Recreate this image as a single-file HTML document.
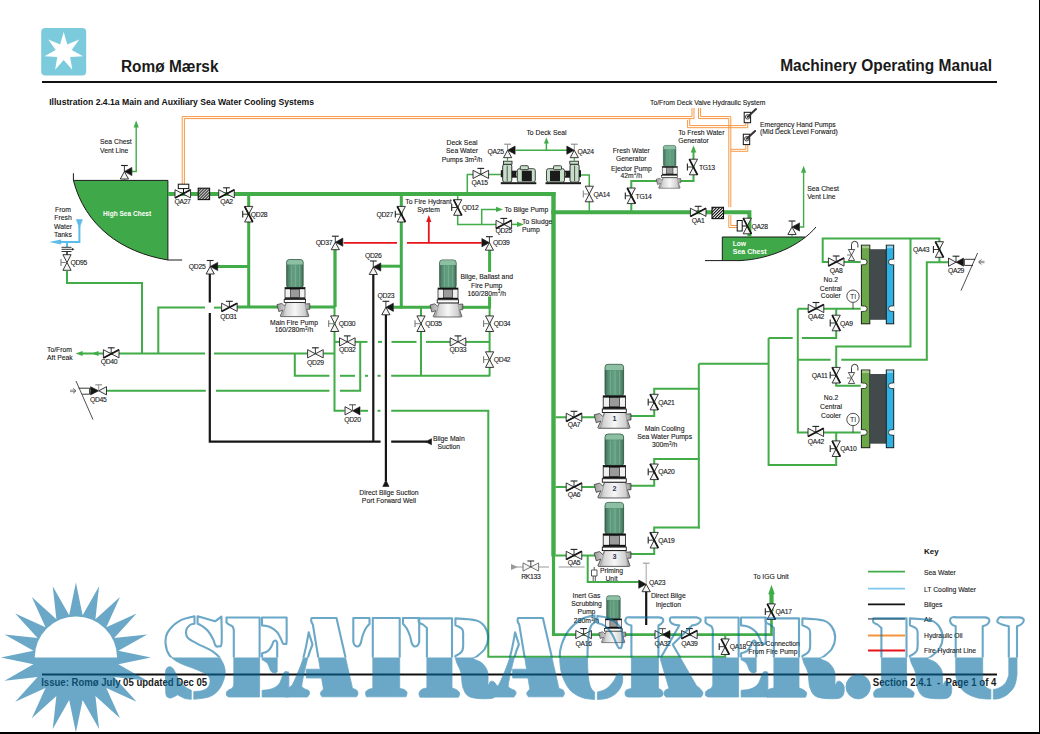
<!DOCTYPE html>
<html><head><meta charset="utf-8">
<style>
html,body{margin:0;padding:0;background:#fff;}
body{width:1040px;height:734px;overflow:hidden;position:relative;}
svg{position:absolute;left:0;top:0;}
#wm{opacity:0.59;}
</style></head><body>
<svg id="dg" width="1040" height="734" viewBox="0 0 1040 734" font-family="Liberation Sans, sans-serif">
<defs>
<pattern id="hatch" patternUnits="userSpaceOnUse" width="2.1" height="2.1" patternTransform="rotate(45)">
<rect width="2.1" height="2.1" fill="#e6e6e6"/><rect width="1.0" height="2.1" fill="#111"/></pattern>
<linearGradient id="motor" x1="0" x2="1" y1="0" y2="0">
<stop offset="0" stop-color="#3f6f57"/><stop offset="0.18" stop-color="#578f73"/><stop offset="0.5" stop-color="#62a080"/><stop offset="0.85" stop-color="#578f73"/><stop offset="1" stop-color="#3f6f57"/></linearGradient>
<linearGradient id="casing" x1="0" x2="1" y1="0" y2="0">
<stop offset="0" stop-color="#9c9c9c"/><stop offset="0.3" stop-color="#d9d9d9"/><stop offset="0.55" stop-color="#f7f7f7"/><stop offset="0.85" stop-color="#cfcfcf"/><stop offset="1" stop-color="#8f8f8f"/></linearGradient>
</defs>
<rect x="1039" y="0" width="1" height="734" fill="#000"/>
<rect x="0" y="732" width="1040" height="2" fill="#000"/>
<rect x="41.2" y="28" width="45" height="47.4" rx="4" fill="#7ccbdc"/>
<polygon fill="#fff" points="63.70,32.00 67.26,44.41 79.18,39.45 71.69,49.98 83.00,56.21 70.11,56.91 72.29,69.64 63.70,60.00 55.11,69.64 57.29,56.91 44.40,56.21 55.71,49.98 48.22,39.45 60.14,44.41"/>
<text x="121" y="72" font-size="16" text-anchor="start" font-weight="bold" fill="#1a1a1a" textLength="97.5" lengthAdjust="spacingAndGlyphs">Romø Mærsk</text>
<text x="780.2" y="71" font-size="16" text-anchor="start" font-weight="bold" fill="#1a1a1a" textLength="211.8" lengthAdjust="spacingAndGlyphs">Machinery Operating Manual</text>
<rect x="42" y="81" width="955" height="2" fill="#111"/>
<text x="49.2" y="105" font-size="9" text-anchor="start" font-weight="bold" fill="#111" textLength="264.8" lengthAdjust="spacingAndGlyphs">Illustration 2.4.1a Main and Auxiliary Sea Water Cooling Systems</text>
<rect x="42" y="673.5" width="955" height="2" fill="#111"/>
<text x="41.2" y="686" font-size="10" text-anchor="start" font-weight="bold" fill="#1a1a1a" textLength="166" lengthAdjust="spacingAndGlyphs">Issue: Romø July 05 updated Dec 05</text>
<text x="872.8" y="686" font-size="10" text-anchor="start" font-weight="bold" fill="#1a1a1a" xml:space="preserve" textLength="123.6" lengthAdjust="spacingAndGlyphs">Section 2.4.1  -  Page 1 of 4</text>
<path d="M182.20,185.00 L182.20,116.60 L692.00,116.60 L692.00,108.00" fill="none" stroke="#f5933d" stroke-width="0.95" stroke-linecap="butt" stroke-linejoin="miter"/>
<path d="M184.40,185.00 L184.40,118.60 L694.00,118.60 L694.00,108.00" fill="none" stroke="#f5933d" stroke-width="0.95" stroke-linecap="butt" stroke-linejoin="miter"/>
<path d="M698.50,108.00 L698.50,118.60 L728.80,118.60 L728.80,207.00" fill="none" stroke="#f5933d" stroke-width="0.95" stroke-linecap="butt" stroke-linejoin="miter"/>
<path d="M700.60,108.00 L700.60,116.60 L730.80,116.60 L730.80,207.00" fill="none" stroke="#f5933d" stroke-width="0.95" stroke-linecap="butt" stroke-linejoin="miter"/>
<path d="M728.80,215.00 L728.80,227.50 L737.20,227.50" fill="none" stroke="#f5933d" stroke-width="0.95" stroke-linecap="butt" stroke-linejoin="miter"/>
<path d="M730.80,215.00 L730.80,225.50 L737.20,225.50" fill="none" stroke="#f5933d" stroke-width="0.95" stroke-linecap="butt" stroke-linejoin="miter"/>
<path d="M687.60,120.00 L687.60,127.70 L747.80,127.70 L747.80,122.70" fill="none" stroke="#f5933d" stroke-width="0.95" stroke-linecap="butt" stroke-linejoin="miter"/>
<path d="M689.70,118.60 L689.70,125.60 L745.80,125.60 L745.80,122.70" fill="none" stroke="#f5933d" stroke-width="0.95" stroke-linecap="butt" stroke-linejoin="miter"/>
<path d="M730.80,151.30 L747.80,151.30 L747.80,144.50" fill="none" stroke="#f5933d" stroke-width="0.95" stroke-linecap="butt" stroke-linejoin="miter"/>
<path d="M730.80,149.30 L745.80,149.30 L745.80,144.50" fill="none" stroke="#f5933d" stroke-width="0.95" stroke-linecap="butt" stroke-linejoin="miter"/>
<rect x="744.2" y="112.3" width="6.4" height="10.4" fill="#fff" stroke="#111" stroke-width="1"/>
<circle cx="747.6" cy="116.89999999999999" r="2.2" fill="none" stroke="#111" stroke-width="0.8"/>
<path d="M747.60,116.90 L756.00,109.10" fill="none" stroke="#333" stroke-width="2.0" stroke-linecap="round" stroke-linejoin="miter"/>
<rect x="743.3" y="134.2" width="6.4" height="10.4" fill="#fff" stroke="#111" stroke-width="1"/>
<circle cx="746.6999999999999" cy="138.79999999999998" r="2.2" fill="none" stroke="#111" stroke-width="0.8"/>
<path d="M746.70,138.80 L755.10,131.00" fill="none" stroke="#333" stroke-width="2.0" stroke-linecap="round" stroke-linejoin="miter"/>
<text x="650" y="105.3" font-size="6.8" text-anchor="start" font-weight="normal" fill="#151515" stroke="#151515" stroke-width="0.1" >To/From Deck Valve Hydraulic System</text>
<text x="760" y="126.5" font-size="6.8" text-anchor="start" font-weight="normal" fill="#151515" stroke="#151515" stroke-width="0.1" >Emergency Hand Pumps</text>
<text x="760" y="134.2" font-size="6.8" text-anchor="start" font-weight="normal" fill="#151515" stroke="#151515" stroke-width="0.1" >(Mid Deck Level Forward)</text>
<path d="M73.4,180.4 L167.9,180.4 L167.9,260 C120,252 85,225 73.4,180.4 Z" fill="#3fa849"/>
<path d="M73.4,173.2 L73.4,180.4 C85,225 120,252 167.9,260 L182.2,260 M73.4,180.4 L167.9,180.4 L167.9,260" fill="none" stroke="#1a1a1a" stroke-width="1"/>
<text x="127.1" y="215.6" font-size="7.2" text-anchor="middle" font-weight="bold" fill="#fff" textLength="48" lengthAdjust="spacingAndGlyphs">High Sea Chest</text>
<path d="M124.40,180.00 L124.40,176.00" fill="none" stroke="#41ac48" stroke-width="1.2" stroke-linecap="butt" stroke-linejoin="miter"/>
<path d="M132.00,171.50 L136.20,171.50 L136.20,126.00" fill="none" stroke="#41ac48" stroke-width="1.4" stroke-linecap="butt" stroke-linejoin="miter"/>
<polygon points="136.20,120.60 133.60,127.60 138.80,127.60" fill="#41ac48"/>
<polygon points="120.30,179.00 128.50,179.00 124.40,171.50" fill="#f4f4f4" stroke="#222" stroke-width="0.9" stroke-linejoin="miter"/>
<polygon points="131.90,167.40 131.90,175.60 124.40,171.50" fill="#161616" stroke="#161616" stroke-width="0.6"/>
<path d="M124.40,171.50 L124.40,165.50" fill="none" stroke="#222" stroke-width="0.9" stroke-linecap="butt" stroke-linejoin="miter"/>
<path d="M121.00,165.50 L127.80,165.50" fill="none" stroke="#222" stroke-width="1.1" stroke-linecap="butt" stroke-linejoin="miter"/>
<text x="100" y="144.4" font-size="6.8" text-anchor="start" font-weight="normal" fill="#151515" stroke="#151515" stroke-width="0.1" >Sea Chest</text>
<text x="100" y="153.0" font-size="6.8" text-anchor="start" font-weight="normal" fill="#151515" stroke="#151515" stroke-width="0.1" >Vent Line</text>
<path d="M722.3,237 L805.4,237 C790,250 765,259 740,260.6 L722.3,260.6 Z" fill="#3fa849"/>
<path d="M722.3,260.6 L722.3,237 L805.4,237 M816,227 C800,246 770,259 740,260.6 L705,260.6" fill="none" stroke="#1a1a1a" stroke-width="1"/>
<text x="732.7" y="246" font-size="6.7" text-anchor="start" font-weight="bold" fill="#fff" >Low</text>
<text x="732.7" y="254" font-size="6.7" text-anchor="start" font-weight="bold" fill="#fff" textLength="34" lengthAdjust="spacingAndGlyphs">Sea Chest</text>
<path d="M792.00,237.00 L792.00,234.00" fill="none" stroke="#41ac48" stroke-width="1.2" stroke-linecap="butt" stroke-linejoin="miter"/>
<path d="M799.60,227.00 L803.60,227.00 L803.60,172.00" fill="none" stroke="#41ac48" stroke-width="1.4" stroke-linecap="butt" stroke-linejoin="miter"/>
<polygon points="803.60,165.70 801.00,172.70 806.20,172.70" fill="#41ac48"/>
<polygon points="787.90,234.50 796.10,234.50 792.00,227.00" fill="#f4f4f4" stroke="#222" stroke-width="0.9" stroke-linejoin="miter"/>
<polygon points="799.50,222.90 799.50,231.10 792.00,227.00" fill="#161616" stroke="#161616" stroke-width="0.6"/>
<path d="M792.00,227.00 L792.00,221.00" fill="none" stroke="#222" stroke-width="0.9" stroke-linecap="butt" stroke-linejoin="miter"/>
<path d="M788.60,221.00 L795.40,221.00" fill="none" stroke="#222" stroke-width="1.1" stroke-linecap="butt" stroke-linejoin="miter"/>
<text x="807.2" y="190.5" font-size="6.8" text-anchor="start" font-weight="normal" fill="#151515" stroke="#151515" stroke-width="0.1" >Sea Chest</text>
<text x="807.2" y="199.4" font-size="6.8" text-anchor="start" font-weight="normal" fill="#151515" stroke="#151515" stroke-width="0.1" >Vent Line</text>
<path d="M167.90,194.00 L555.50,194.00" fill="none" stroke="#41ac48" stroke-width="4" stroke-linecap="butt" stroke-linejoin="miter"/>
<path d="M553.50,192.00 L553.50,556.50" fill="none" stroke="#41ac48" stroke-width="4.4" stroke-linecap="butt" stroke-linejoin="miter"/>
<path d="M553.50,556.00 L553.50,636.00" fill="none" stroke="#41ac48" stroke-width="3.2" stroke-linecap="butt" stroke-linejoin="miter"/>
<path d="M551.30,212.30 L749.40,212.30 L749.40,237.00" fill="none" stroke="#41ac48" stroke-width="4" stroke-linecap="butt" stroke-linejoin="miter"/>
<path d="M553.50,634.60 L771.50,634.60 L771.50,611.00" fill="none" stroke="#41ac48" stroke-width="2.6" stroke-linecap="butt" stroke-linejoin="miter"/>
<path d="M771.50,611.00 L771.50,593.00" fill="none" stroke="#41ac48" stroke-width="4.2" stroke-linecap="butt" stroke-linejoin="miter"/>
<polygon points="771.50,584.70 768.20,594.20 774.80,594.20" fill="#41ac48"/>
<polygon points="175.00,189.70 175.00,197.90 182.80,193.80" fill="#f4f4f4" stroke="#222" stroke-width="0.9" stroke-linejoin="miter"/>
<polygon points="190.60,189.70 190.60,197.90 182.80,193.80" fill="#f4f4f4" stroke="#222" stroke-width="0.9" stroke-linejoin="miter"/>
<path d="M175.00,197.90 L190.60,189.70" fill="none" stroke="#161616" stroke-width="1.7" stroke-linecap="butt" stroke-linejoin="miter"/>
<rect x="178.3" y="184.2" width="10.5" height="4.4" fill="#fff" stroke="#111" stroke-width="1"/>
<path d="M183.50,188.60 L183.50,193.80" fill="none" stroke="#111" stroke-width="1" stroke-linecap="butt" stroke-linejoin="miter"/>
<rect x="198.2" y="188.2" width="11.4" height="11.4" fill="url(#hatch)" stroke="#111" stroke-width="1.1"/>
<polygon points="218.70,189.70 218.70,197.90 226.50,193.80" fill="#f4f4f4" stroke="#222" stroke-width="0.9" stroke-linejoin="miter"/>
<polygon points="234.30,189.70 234.30,197.90 226.50,193.80" fill="#f4f4f4" stroke="#222" stroke-width="0.9" stroke-linejoin="miter"/>
<path d="M218.70,197.90 L234.30,189.70" fill="none" stroke="#161616" stroke-width="1.7" stroke-linecap="butt" stroke-linejoin="miter"/>
<path d="M226.50,193.80 L226.50,187.80" fill="none" stroke="#222" stroke-width="0.9" stroke-linecap="butt" stroke-linejoin="miter"/>
<path d="M223.10,187.80 L229.90,187.80" fill="none" stroke="#222" stroke-width="1.1" stroke-linecap="butt" stroke-linejoin="miter"/>
<text x="182.5" y="204.3" font-size="6.8" text-anchor="middle" font-weight="normal" fill="#151515" stroke="#151515" stroke-width="0.1" letter-spacing="-0.3" >QA27</text>
<text x="226.5" y="204.3" font-size="6.8" text-anchor="middle" font-weight="normal" fill="#151515" stroke="#151515" stroke-width="0.1" letter-spacing="-0.3" >QA2</text>
<polygon points="690.40,208.20 690.40,216.40 698.20,212.30" fill="#f4f4f4" stroke="#222" stroke-width="0.9" stroke-linejoin="miter"/>
<polygon points="706.00,208.20 706.00,216.40 698.20,212.30" fill="#f4f4f4" stroke="#222" stroke-width="0.9" stroke-linejoin="miter"/>
<path d="M690.40,216.40 L706.00,208.20" fill="none" stroke="#161616" stroke-width="1.7" stroke-linecap="butt" stroke-linejoin="miter"/>
<path d="M698.20,212.30 L698.20,206.30" fill="none" stroke="#222" stroke-width="0.9" stroke-linecap="butt" stroke-linejoin="miter"/>
<path d="M694.80,206.30 L701.60,206.30" fill="none" stroke="#222" stroke-width="1.1" stroke-linecap="butt" stroke-linejoin="miter"/>
<text x="698.2" y="223.0" font-size="6.8" text-anchor="middle" font-weight="normal" fill="#151515" stroke="#151515" stroke-width="0.1" letter-spacing="-0.3" >QA1</text>
<rect x="712" y="207.3" width="11.5" height="11.3" fill="url(#hatch)" stroke="#111" stroke-width="1.1"/>
<polygon points="743.20,218.20 751.40,218.20 747.30,226.00" fill="#f4f4f4" stroke="#222" stroke-width="0.9" stroke-linejoin="miter"/>
<polygon points="743.20,233.80 751.40,233.80 747.30,226.00" fill="#f4f4f4" stroke="#222" stroke-width="0.9" stroke-linejoin="miter"/>
<path d="M743.20,218.20 L751.40,233.80" fill="none" stroke="#161616" stroke-width="1.7" stroke-linecap="butt" stroke-linejoin="miter"/>
<rect x="737.2" y="220.5" width="5" height="10.5" fill="#fff" stroke="#111" stroke-width="1"/>
<path d="M742.20,226.00 L747.30,226.00" fill="none" stroke="#111" stroke-width="1" stroke-linecap="butt" stroke-linejoin="miter"/>
<text x="751.5" y="229.2" font-size="6.8" text-anchor="start" font-weight="normal" fill="#151515" stroke="#151515" stroke-width="0.1" letter-spacing="-0.3" >QA28</text>
<path d="M79.40,226.00 L79.40,242.00 L60.00,242.00" fill="none" stroke="#5cbbe9" stroke-width="2" stroke-linecap="butt" stroke-linejoin="miter"/>
<polygon points="49.20,242.00 61.20,239.60 61.20,244.40" fill="#5cbbe9"/>
<polygon points="76.40,219.60 82.40,219.60 79.40,228.00" fill="#5cbbe9" stroke="#5cbbe9" stroke-width="0.6"/>
<path d="M67.00,242.00 L67.00,247.00" fill="none" stroke="#5cbbe9" stroke-width="2" stroke-linecap="butt" stroke-linejoin="miter"/>
<text x="63" y="212.2" font-size="6.8" text-anchor="middle" font-weight="normal" fill="#151515" stroke="#151515" stroke-width="0.1" >From</text>
<text x="63" y="220.3" font-size="6.8" text-anchor="middle" font-weight="normal" fill="#151515" stroke="#151515" stroke-width="0.1" >Fresh</text>
<text x="63" y="229.0" font-size="6.8" text-anchor="middle" font-weight="normal" fill="#151515" stroke="#151515" stroke-width="0.1" >Water</text>
<text x="63" y="237.2" font-size="6.8" text-anchor="middle" font-weight="normal" fill="#151515" stroke="#151515" stroke-width="0.1" >Tanks</text>
<path d="M61.50,247.30 L71.50,247.30" fill="none" stroke="#222" stroke-width="0.9" stroke-linecap="butt" stroke-linejoin="miter"/>
<path d="M61.50,249.30 L72.50,249.30" fill="none" stroke="#222" stroke-width="0.9" stroke-linecap="butt" stroke-linejoin="miter"/>
<polygon points="74.50,249.30 72.00,248.00 72.00,250.60" fill="#222"/>
<path d="M61.50,251.50 L71.50,251.50" fill="none" stroke="#222" stroke-width="0.9" stroke-linecap="butt" stroke-linejoin="miter"/>
<path d="M67.00,251.50 L67.00,255.00" fill="none" stroke="#222" stroke-width="1.5" stroke-linecap="butt" stroke-linejoin="miter"/>
<polygon points="62.90,254.70 71.10,254.70 67.00,262.50" fill="#f4f4f4" stroke="#222" stroke-width="0.9" stroke-linejoin="miter"/>
<polygon points="62.90,270.30 71.10,270.30 67.00,262.50" fill="#f4f4f4" stroke="#222" stroke-width="0.9" stroke-linejoin="miter"/>
<path d="M67.00,262.50 L61.00,262.50" fill="none" stroke="#777" stroke-width="0.9" stroke-linecap="butt" stroke-linejoin="miter"/>
<path d="M61.00,259.10 L61.00,265.90" fill="none" stroke="#777" stroke-width="1.1" stroke-linecap="butt" stroke-linejoin="miter"/>
<text x="70.4" y="265.2" font-size="6.8" text-anchor="start" font-weight="normal" fill="#151515" stroke="#151515" stroke-width="0.1" letter-spacing="-0.3" >QD95</text>
<path d="M67.00,270.40 L67.00,282.90 L142.00,282.90 L142.00,353.50" fill="none" stroke="#41ac48" stroke-width="2" stroke-linecap="butt" stroke-linejoin="miter"/>
<path d="M80.00,353.50 L205.00,353.50" fill="none" stroke="#41ac48" stroke-width="2" stroke-linecap="butt" stroke-linejoin="miter"/>
<path d="M214.00,353.50 L307.50,353.50" fill="none" stroke="#41ac48" stroke-width="2" stroke-linecap="butt" stroke-linejoin="miter"/>
<path d="M323.50,353.50 L334.50,353.50" fill="none" stroke="#41ac48" stroke-width="2" stroke-linecap="butt" stroke-linejoin="miter"/>
<polygon points="75.60,353.50 82.60,350.90 82.60,356.10" fill="#41ac48"/>
<polygon points="91.50,353.50 98.50,350.90 98.50,356.10" fill="#41ac48"/>
<polygon points="103.40,349.70 103.40,357.90 111.20,353.80" fill="#f4f4f4" stroke="#222" stroke-width="0.9" stroke-linejoin="miter"/>
<polygon points="119.00,349.70 119.00,357.90 111.20,353.80" fill="#f4f4f4" stroke="#222" stroke-width="0.9" stroke-linejoin="miter"/>
<path d="M103.40,357.90 L119.00,349.70" fill="none" stroke="#161616" stroke-width="1.7" stroke-linecap="butt" stroke-linejoin="miter"/>
<path d="M111.20,353.80 L111.20,347.80" fill="none" stroke="#222" stroke-width="0.9" stroke-linecap="butt" stroke-linejoin="miter"/>
<path d="M107.80,347.80 L114.60,347.80" fill="none" stroke="#222" stroke-width="1.1" stroke-linecap="butt" stroke-linejoin="miter"/>
<text x="109" y="364.4" font-size="6.8" text-anchor="middle" font-weight="normal" fill="#151515" stroke="#151515" stroke-width="0.1" letter-spacing="-0.3" >QD40</text>
<text x="47" y="352.2" font-size="6.8" text-anchor="start" font-weight="normal" fill="#151515" stroke="#151515" stroke-width="0.1" >To/From</text>
<text x="47" y="359.9" font-size="6.8" text-anchor="start" font-weight="normal" fill="#151515" stroke="#151515" stroke-width="0.1" >Aft Peak</text>
<path d="M158.30,353.50 L158.30,307.60 L205.00,307.60" fill="none" stroke="#41ac48" stroke-width="2" stroke-linecap="butt" stroke-linejoin="miter"/>
<path d="M214.00,307.60 L221.50,307.60" fill="none" stroke="#41ac48" stroke-width="2" stroke-linecap="butt" stroke-linejoin="miter"/>
<path d="M237.00,307.00 L278.00,307.00" fill="none" stroke="#41ac48" stroke-width="3" stroke-linecap="butt" stroke-linejoin="miter"/>
<path d="M309.50,307.00 L335.00,307.00" fill="none" stroke="#41ac48" stroke-width="3" stroke-linecap="butt" stroke-linejoin="miter"/>
<polygon points="221.60,303.20 221.60,311.40 229.40,307.30" fill="#f4f4f4" stroke="#222" stroke-width="0.9" stroke-linejoin="miter"/>
<polygon points="237.20,303.20 237.20,311.40 229.40,307.30" fill="#f4f4f4" stroke="#222" stroke-width="0.9" stroke-linejoin="miter"/>
<path d="M221.60,311.40 L237.20,303.20" fill="none" stroke="#161616" stroke-width="1.7" stroke-linecap="butt" stroke-linejoin="miter"/>
<path d="M229.40,307.30 L229.40,301.30" fill="none" stroke="#222" stroke-width="0.9" stroke-linecap="butt" stroke-linejoin="miter"/>
<path d="M226.00,301.30 L232.80,301.30" fill="none" stroke="#222" stroke-width="1.1" stroke-linecap="butt" stroke-linejoin="miter"/>
<text x="228.5" y="319.2" font-size="6.8" text-anchor="middle" font-weight="normal" fill="#151515" stroke="#151515" stroke-width="0.1" letter-spacing="-0.3" >QD31</text>
<path d="M106.30,390.80 L205.80,390.80" fill="none" stroke="#41ac48" stroke-width="2" stroke-linecap="butt" stroke-linejoin="miter"/>
<path d="M216.00,390.80 L329.40,390.80" fill="none" stroke="#41ac48" stroke-width="2" stroke-linecap="butt" stroke-linejoin="miter"/>
<path d="M340.00,390.80 L360.20,390.80 L360.20,341.90" fill="none" stroke="#41ac48" stroke-width="2" stroke-linecap="butt" stroke-linejoin="miter"/>
<polygon points="90.50,386.70 90.50,394.90 98.70,390.80" fill="#161616" stroke="#161616" stroke-width="0.6"/>
<polygon points="106.50,386.70 106.50,394.90 98.70,390.80" fill="#f4f4f4" stroke="#222" stroke-width="0.9" stroke-linejoin="miter"/>
<path d="M98.70,390.80 L98.70,384.80" fill="none" stroke="#888" stroke-width="0.9" stroke-linecap="butt" stroke-linejoin="miter"/>
<path d="M95.30,384.80 L102.10,384.80" fill="none" stroke="#888" stroke-width="1.1" stroke-linecap="butt" stroke-linejoin="miter"/>
<path d="M89.60,390.80 L91.00,390.80" fill="none" stroke="#41ac48" stroke-width="1.5" stroke-linecap="butt" stroke-linejoin="miter"/>
<path d="M78.6,388.2 L89.6,388.2 L89.6,394.2 L82.2,394.2" fill="none" stroke="#222" stroke-width="0.9"/>
<path d="M76.00,381.00 L93.00,419.60" fill="none" stroke="#222" stroke-width="0.8" stroke-linecap="butt" stroke-linejoin="miter"/>
<path d="M70.00,390.20 L75.50,390.20" fill="none" stroke="#444" stroke-width="0.6" stroke-linecap="butt" stroke-linejoin="miter"/>
<path d="M70.00,391.60 L75.50,391.60" fill="none" stroke="#444" stroke-width="0.6" stroke-linecap="butt" stroke-linejoin="miter"/>
<path d="M73,388.3 L76,390.9 L73,393.5" fill="none" stroke="#444" stroke-width="0.7"/>
<text x="98.3" y="402.0" font-size="6.8" text-anchor="middle" font-weight="normal" fill="#151515" stroke="#151515" stroke-width="0.1" letter-spacing="-0.3" >QD45</text>
<path d="M248.70,194.00 L248.70,307.00" fill="none" stroke="#41ac48" stroke-width="3" stroke-linecap="butt" stroke-linejoin="miter"/>
<path d="M215.00,266.50 L248.70,266.50" fill="none" stroke="#41ac48" stroke-width="3" stroke-linecap="butt" stroke-linejoin="miter"/>
<polygon points="244.60,206.40 252.80,206.40 248.70,214.20" fill="#f4f4f4" stroke="#222" stroke-width="0.9" stroke-linejoin="miter"/>
<polygon points="244.60,222.00 252.80,222.00 248.70,214.20" fill="#f4f4f4" stroke="#222" stroke-width="0.9" stroke-linejoin="miter"/>
<path d="M244.60,206.40 L252.80,222.00" fill="none" stroke="#161616" stroke-width="1.7" stroke-linecap="butt" stroke-linejoin="miter"/>
<path d="M248.70,214.20 L242.70,214.20" fill="none" stroke="#222" stroke-width="0.9" stroke-linecap="butt" stroke-linejoin="miter"/>
<path d="M242.70,210.80 L242.70,217.60" fill="none" stroke="#222" stroke-width="1.1" stroke-linecap="butt" stroke-linejoin="miter"/>
<text x="250.8" y="217.0" font-size="6.8" text-anchor="start" font-weight="normal" fill="#151515" stroke="#151515" stroke-width="0.1" letter-spacing="-0.3" >QD28</text>
<polygon points="206.10,274.00 214.30,274.00 210.20,266.50" fill="#f4f4f4" stroke="#222" stroke-width="0.9" stroke-linejoin="miter"/>
<polygon points="217.70,262.40 217.70,270.60 210.20,266.50" fill="#161616" stroke="#161616" stroke-width="0.6"/>
<path d="M210.20,266.50 L210.20,260.50" fill="none" stroke="#222" stroke-width="0.9" stroke-linecap="butt" stroke-linejoin="miter"/>
<path d="M206.80,260.50 L213.60,260.50" fill="none" stroke="#222" stroke-width="1.1" stroke-linecap="butt" stroke-linejoin="miter"/>
<text x="205.4" y="269.2" font-size="6.8" text-anchor="end" font-weight="normal" fill="#151515" stroke="#151515" stroke-width="0.1" letter-spacing="-0.3" >QD25</text>
<path d="M209.80,274.00 L209.80,302.50" fill="none" stroke="#161616" stroke-width="2.2" stroke-linecap="butt" stroke-linejoin="miter"/>
<path d="M209.80,313.00 L209.80,441.70 L380.60,441.70" fill="none" stroke="#161616" stroke-width="2.2" stroke-linecap="butt" stroke-linejoin="miter"/>
<path d="M391.20,441.70 L427.00,441.70" fill="none" stroke="#161616" stroke-width="2.2" stroke-linecap="butt" stroke-linejoin="miter"/>
<polygon points="425.50,441.70 431.50,438.70 431.50,444.70" fill="#161616" stroke="#161616" stroke-width="0.6"/>
<path d="M373.30,274.00 L373.30,441.70" fill="none" stroke="#161616" stroke-width="2.2" stroke-linecap="butt" stroke-linejoin="miter"/>
<path d="M385.90,314.00 L385.90,481.00" fill="none" stroke="#161616" stroke-width="2.2" stroke-linecap="butt" stroke-linejoin="miter"/>
<polygon points="385.90,480.00 382.80,486.50 389.00,486.50" fill="#161616" stroke="#161616" stroke-width="0.6"/>
<text x="448.8" y="440.9" font-size="6.8" text-anchor="middle" font-weight="normal" fill="#151515" stroke="#151515" stroke-width="0.1" >Bilge Main</text>
<text x="448.8" y="449.2" font-size="6.8" text-anchor="middle" font-weight="normal" fill="#151515" stroke="#151515" stroke-width="0.1" >Suction</text>
<text x="389" y="494.7" font-size="6.8" text-anchor="middle" font-weight="normal" fill="#151515" stroke="#151515" stroke-width="0.1" >Direct Bilge Suction</text>
<text x="389" y="503.0" font-size="6.8" text-anchor="middle" font-weight="normal" fill="#151515" stroke="#151515" stroke-width="0.1" >Port Forward Well</text>
<polygon points="286.30,302.50 304.90,302.50 305.60,304.00 309.80,303.60 309.80,309.20 306.60,309.40 308.90,316.00 308.40,316.60 280.70,316.60 280.20,316.00 282.80,310.20 278.80,311.60 277.00,304.60 281.80,303.40 284.60,306.00" fill="url(#casing)" stroke="#333" stroke-width="0.70" stroke-linejoin="round"/>
<path d="M286.30,302.50 L282.50,316.40 M304.90,302.50 L307.40,316.40" stroke="#888" stroke-width="0.60" fill="none"/>
<rect x="286.60" y="259.50" width="16.60" height="28.60" rx="2.80" fill="url(#motor)" stroke="#2b4a3a" stroke-width="0.70"/>
<path d="M287.00,264.50 L287.00,262.30 Q287.00,259.90 289.40,259.90 L300.40,259.90 Q302.80,259.90 302.80,262.30 L302.80,264.50 Z" fill="#8dbfa3"/>
<line x1="291.40" y1="265.30" x2="291.40" y2="286.30" stroke="#86b99c" stroke-width="0.60"/>
<line x1="295.60" y1="265.30" x2="295.60" y2="286.30" stroke="#86b99c" stroke-width="0.60"/>
<line x1="299.60" y1="265.30" x2="299.60" y2="286.30" stroke="#86b99c" stroke-width="0.60"/>
<rect x="285.00" y="287.60" width="20.00" height="11.20" fill="#f0f0f0" stroke="#111" stroke-width="0.70"/>
<rect x="285.00" y="287.60" width="20.00" height="1.60" fill="#111"/>
<rect x="285.00" y="297.40" width="20.00" height="1.40" fill="#111"/>
<rect x="290.60" y="289.20" width="8.80" height="8.20" fill="#9a9a9a" stroke="#111" stroke-width="0.60"/>
<rect x="284.20" y="299.40" width="21.40" height="3.10" fill="#fff" stroke="#111" stroke-width="0.80"/>
<text x="294" y="324.6" font-size="6.8" text-anchor="middle" font-weight="normal" fill="#151515" stroke="#151515" stroke-width="0.1" >Main Fire Pump</text>
<text x="294" y="332.3" font-size="6.8" text-anchor="middle" font-weight="normal" fill="#151515" stroke="#151515" stroke-width="0.1" >160/280m<tspan dy="-2.3" font-size="4.62">3</tspan><tspan dy="2.3">/h</tspan></text>
<path d="M335.00,249.50 L335.00,307.00" fill="none" stroke="#41ac48" stroke-width="3.3" stroke-linecap="butt" stroke-linejoin="miter"/>
<path d="M334.50,307.00 L334.50,410.80 L344.50,410.80" fill="none" stroke="#41ac48" stroke-width="2" stroke-linecap="butt" stroke-linejoin="miter"/>
<polygon points="331.20,249.70 339.40,249.70 335.30,242.20" fill="#f4f4f4" stroke="#222" stroke-width="0.9" stroke-linejoin="miter"/>
<polygon points="342.80,238.10 342.80,246.30 335.30,242.20" fill="#161616" stroke="#161616" stroke-width="0.6"/>
<path d="M335.30,242.20 L335.30,236.20" fill="none" stroke="#222" stroke-width="0.9" stroke-linecap="butt" stroke-linejoin="miter"/>
<path d="M331.90,236.20 L338.70,236.20" fill="none" stroke="#222" stroke-width="1.1" stroke-linecap="butt" stroke-linejoin="miter"/>
<text x="332.2" y="244.5" font-size="6.8" text-anchor="end" font-weight="normal" fill="#151515" stroke="#151515" stroke-width="0.1" letter-spacing="-0.3" >QD37</text>
<polygon points="330.60,315.90 338.80,315.90 334.70,323.70" fill="#f4f4f4" stroke="#222" stroke-width="0.9" stroke-linejoin="miter"/>
<polygon points="330.60,331.50 338.80,331.50 334.70,323.70" fill="#f4f4f4" stroke="#222" stroke-width="0.9" stroke-linejoin="miter"/>
<path d="M334.70,323.70 L328.70,323.70" fill="none" stroke="#777" stroke-width="0.9" stroke-linecap="butt" stroke-linejoin="miter"/>
<path d="M328.70,320.30 L328.70,327.10" fill="none" stroke="#777" stroke-width="1.1" stroke-linecap="butt" stroke-linejoin="miter"/>
<text x="338.7" y="326.3" font-size="6.8" text-anchor="start" font-weight="normal" fill="#151515" stroke="#151515" stroke-width="0.1" letter-spacing="-0.3" >QD30</text>
<path d="M343.60,242.90 L397.00,242.90" fill="none" stroke="#e8141c" stroke-width="1.8" stroke-linecap="butt" stroke-linejoin="miter"/>
<path d="M407.00,242.90 L481.70,242.90" fill="none" stroke="#e8141c" stroke-width="1.8" stroke-linecap="butt" stroke-linejoin="miter"/>
<path d="M428.80,242.90 L428.80,221.00" fill="none" stroke="#e8141c" stroke-width="1.8" stroke-linecap="butt" stroke-linejoin="miter"/>
<polygon points="428.80,215.00 426.20,222.00 431.40,222.00" fill="#e8141c"/>
<text x="428.5" y="204.4" font-size="6.8" text-anchor="middle" font-weight="normal" fill="#151515" stroke="#151515" stroke-width="0.1" >To Fire Hydrant</text>
<text x="428.5" y="212.0" font-size="6.8" text-anchor="middle" font-weight="normal" fill="#151515" stroke="#151515" stroke-width="0.1" >System</text>
<path d="M401.30,194.00 L401.30,308.50" fill="none" stroke="#41ac48" stroke-width="3" stroke-linecap="butt" stroke-linejoin="miter"/>
<path d="M381.00,266.20 L401.30,266.20" fill="none" stroke="#41ac48" stroke-width="3" stroke-linecap="butt" stroke-linejoin="miter"/>
<path d="M393.50,307.30 L431.00,307.30" fill="none" stroke="#41ac48" stroke-width="3" stroke-linecap="butt" stroke-linejoin="miter"/>
<path d="M462.50,307.30 L489.60,307.30" fill="none" stroke="#41ac48" stroke-width="3" stroke-linecap="butt" stroke-linejoin="miter"/>
<polygon points="397.20,206.40 405.40,206.40 401.30,214.20" fill="#f4f4f4" stroke="#222" stroke-width="0.9" stroke-linejoin="miter"/>
<polygon points="397.20,222.00 405.40,222.00 401.30,214.20" fill="#f4f4f4" stroke="#222" stroke-width="0.9" stroke-linejoin="miter"/>
<path d="M397.20,206.40 L405.40,222.00" fill="none" stroke="#161616" stroke-width="1.7" stroke-linecap="butt" stroke-linejoin="miter"/>
<path d="M401.30,214.20 L395.30,214.20" fill="none" stroke="#222" stroke-width="0.9" stroke-linecap="butt" stroke-linejoin="miter"/>
<path d="M395.30,210.80 L395.30,217.60" fill="none" stroke="#222" stroke-width="1.1" stroke-linecap="butt" stroke-linejoin="miter"/>
<text x="393" y="217.2" font-size="6.8" text-anchor="end" font-weight="normal" fill="#151515" stroke="#151515" stroke-width="0.1" letter-spacing="-0.3" >QD27</text>
<polygon points="369.20,274.50 377.40,274.50 373.30,267.00" fill="#f4f4f4" stroke="#222" stroke-width="0.9" stroke-linejoin="miter"/>
<polygon points="380.80,262.90 380.80,271.10 373.30,267.00" fill="#161616" stroke="#161616" stroke-width="0.6"/>
<path d="M373.30,267.00 L373.30,261.00" fill="none" stroke="#222" stroke-width="0.9" stroke-linecap="butt" stroke-linejoin="miter"/>
<path d="M369.90,261.00 L376.70,261.00" fill="none" stroke="#222" stroke-width="1.1" stroke-linecap="butt" stroke-linejoin="miter"/>
<text x="373.3" y="258.0" font-size="6.8" text-anchor="middle" font-weight="normal" fill="#151515" stroke="#151515" stroke-width="0.1" letter-spacing="-0.3" >QD26</text>
<polygon points="381.80,314.80 390.00,314.80 385.90,307.30" fill="#f4f4f4" stroke="#222" stroke-width="0.9" stroke-linejoin="miter"/>
<polygon points="393.40,303.20 393.40,311.40 385.90,307.30" fill="#161616" stroke="#161616" stroke-width="0.6"/>
<path d="M385.90,307.30 L385.90,301.30" fill="none" stroke="#222" stroke-width="0.9" stroke-linecap="butt" stroke-linejoin="miter"/>
<path d="M382.50,301.30 L389.30,301.30" fill="none" stroke="#222" stroke-width="1.1" stroke-linecap="butt" stroke-linejoin="miter"/>
<text x="385.9" y="298.0" font-size="6.8" text-anchor="middle" font-weight="normal" fill="#151515" stroke="#151515" stroke-width="0.1" letter-spacing="-0.3" >QD23</text>
<polygon points="439.30,302.90 457.90,302.90 458.60,304.40 462.80,304.00 462.80,309.60 459.60,309.80 461.90,316.40 461.40,317.00 433.70,317.00 433.20,316.40 435.80,310.60 431.80,312.00 430.00,305.00 434.80,303.80 437.60,306.40" fill="url(#casing)" stroke="#333" stroke-width="0.70" stroke-linejoin="round"/>
<path d="M439.30,302.90 L435.50,316.80 M457.90,302.90 L460.40,316.80" stroke="#888" stroke-width="0.60" fill="none"/>
<rect x="439.60" y="259.90" width="16.60" height="28.60" rx="2.80" fill="url(#motor)" stroke="#2b4a3a" stroke-width="0.70"/>
<path d="M440.00,264.90 L440.00,262.70 Q440.00,260.30 442.40,260.30 L453.40,260.30 Q455.80,260.30 455.80,262.70 L455.80,264.90 Z" fill="#8dbfa3"/>
<line x1="444.40" y1="265.70" x2="444.40" y2="286.70" stroke="#86b99c" stroke-width="0.60"/>
<line x1="448.60" y1="265.70" x2="448.60" y2="286.70" stroke="#86b99c" stroke-width="0.60"/>
<line x1="452.60" y1="265.70" x2="452.60" y2="286.70" stroke="#86b99c" stroke-width="0.60"/>
<rect x="438.00" y="288.00" width="20.00" height="11.20" fill="#f0f0f0" stroke="#111" stroke-width="0.70"/>
<rect x="438.00" y="288.00" width="20.00" height="1.60" fill="#111"/>
<rect x="438.00" y="297.80" width="20.00" height="1.40" fill="#111"/>
<rect x="443.60" y="289.60" width="8.80" height="8.20" fill="#9a9a9a" stroke="#111" stroke-width="0.60"/>
<rect x="437.20" y="299.80" width="21.40" height="3.10" fill="#fff" stroke="#111" stroke-width="0.80"/>
<path d="M489.60,249.80 L489.60,308.50" fill="none" stroke="#41ac48" stroke-width="3" stroke-linecap="butt" stroke-linejoin="miter"/>
<path d="M489.60,307.30 L489.60,375.80" fill="none" stroke="#41ac48" stroke-width="2" stroke-linecap="butt" stroke-linejoin="miter"/>
<polygon points="485.30,250.20 493.50,250.20 489.40,242.70" fill="#f4f4f4" stroke="#222" stroke-width="0.9" stroke-linejoin="miter"/>
<polygon points="481.90,238.60 481.90,246.80 489.40,242.70" fill="#161616" stroke="#161616" stroke-width="0.6"/>
<path d="M489.40,242.70 L489.40,236.70" fill="none" stroke="#222" stroke-width="0.9" stroke-linecap="butt" stroke-linejoin="miter"/>
<path d="M486.00,236.70 L492.80,236.70" fill="none" stroke="#222" stroke-width="1.1" stroke-linecap="butt" stroke-linejoin="miter"/>
<text x="492.9" y="244.9" font-size="6.8" text-anchor="start" font-weight="normal" fill="#151515" stroke="#151515" stroke-width="0.1" letter-spacing="-0.3" >QD39</text>
<rect x="460" y="272" width="54" height="24.5" fill="#fff"/>
<text x="486.7" y="279.2" font-size="6.8" text-anchor="middle" font-weight="normal" fill="#151515" stroke="#151515" stroke-width="0.1" >Bilge, Ballast and</text>
<text x="486.7" y="287.8" font-size="6.8" text-anchor="middle" font-weight="normal" fill="#151515" stroke="#151515" stroke-width="0.1" >Fire Pump</text>
<text x="486.7" y="295.5" font-size="6.8" text-anchor="middle" font-weight="normal" fill="#151515" stroke="#151515" stroke-width="0.1" >160/280m<tspan dy="-2.3" font-size="4.62">3</tspan><tspan dy="2.3">/h</tspan></text>
<polygon points="485.50,315.90 493.70,315.90 489.60,323.70" fill="#f4f4f4" stroke="#222" stroke-width="0.9" stroke-linejoin="miter"/>
<polygon points="485.50,331.50 493.70,331.50 489.60,323.70" fill="#f4f4f4" stroke="#222" stroke-width="0.9" stroke-linejoin="miter"/>
<path d="M489.60,323.70 L483.60,323.70" fill="none" stroke="#777" stroke-width="0.9" stroke-linecap="butt" stroke-linejoin="miter"/>
<path d="M483.60,320.30 L483.60,327.10" fill="none" stroke="#777" stroke-width="1.1" stroke-linecap="butt" stroke-linejoin="miter"/>
<text x="493.8" y="326.3" font-size="6.8" text-anchor="start" font-weight="normal" fill="#151515" stroke="#151515" stroke-width="0.1" letter-spacing="-0.3" >QD34</text>
<polygon points="485.50,351.80 493.70,351.80 489.60,359.60" fill="#f4f4f4" stroke="#222" stroke-width="0.9" stroke-linejoin="miter"/>
<polygon points="485.50,367.40 493.70,367.40 489.60,359.60" fill="#f4f4f4" stroke="#222" stroke-width="0.9" stroke-linejoin="miter"/>
<path d="M489.60,359.60 L483.60,359.60" fill="none" stroke="#777" stroke-width="0.9" stroke-linecap="butt" stroke-linejoin="miter"/>
<path d="M483.60,356.20 L483.60,363.00" fill="none" stroke="#777" stroke-width="1.1" stroke-linecap="butt" stroke-linejoin="miter"/>
<text x="493.8" y="362.3" font-size="6.8" text-anchor="start" font-weight="normal" fill="#151515" stroke="#151515" stroke-width="0.1" letter-spacing="-0.3" >QD42</text>
<path d="M421.00,307.30 L421.00,375.80" fill="none" stroke="#41ac48" stroke-width="2" stroke-linecap="butt" stroke-linejoin="miter"/>
<polygon points="416.90,315.90 425.10,315.90 421.00,323.70" fill="#f4f4f4" stroke="#222" stroke-width="0.9" stroke-linejoin="miter"/>
<polygon points="416.90,331.50 425.10,331.50 421.00,323.70" fill="#f4f4f4" stroke="#222" stroke-width="0.9" stroke-linejoin="miter"/>
<path d="M421.00,323.70 L415.00,323.70" fill="none" stroke="#777" stroke-width="0.9" stroke-linecap="butt" stroke-linejoin="miter"/>
<path d="M415.00,320.30 L415.00,327.10" fill="none" stroke="#777" stroke-width="1.1" stroke-linecap="butt" stroke-linejoin="miter"/>
<text x="425.2" y="326.3" font-size="6.8" text-anchor="start" font-weight="normal" fill="#151515" stroke="#151515" stroke-width="0.1" letter-spacing="-0.3" >QD35</text>
<path d="M334.50,341.90 L339.50,341.90" fill="none" stroke="#41ac48" stroke-width="2" stroke-linecap="butt" stroke-linejoin="miter"/>
<path d="M355.00,341.90 L367.50,341.90" fill="none" stroke="#41ac48" stroke-width="2" stroke-linecap="butt" stroke-linejoin="miter"/>
<path d="M378.00,341.90 L382.00,341.90" fill="none" stroke="#41ac48" stroke-width="2" stroke-linecap="butt" stroke-linejoin="miter"/>
<path d="M391.50,341.90 L416.50,341.90" fill="none" stroke="#41ac48" stroke-width="2" stroke-linecap="butt" stroke-linejoin="miter"/>
<path d="M426.00,341.90 L450.00,341.90" fill="none" stroke="#41ac48" stroke-width="2" stroke-linecap="butt" stroke-linejoin="miter"/>
<path d="M466.00,341.90 L489.60,341.90" fill="none" stroke="#41ac48" stroke-width="2" stroke-linecap="butt" stroke-linejoin="miter"/>
<polygon points="339.50,337.80 339.50,346.00 347.30,341.90" fill="#f4f4f4" stroke="#222" stroke-width="0.9" stroke-linejoin="miter"/>
<polygon points="355.10,337.80 355.10,346.00 347.30,341.90" fill="#f4f4f4" stroke="#222" stroke-width="0.9" stroke-linejoin="miter"/>
<path d="M347.30,341.90 L347.30,335.90" fill="none" stroke="#222" stroke-width="0.9" stroke-linecap="butt" stroke-linejoin="miter"/>
<path d="M343.90,335.90 L350.70,335.90" fill="none" stroke="#222" stroke-width="1.1" stroke-linecap="butt" stroke-linejoin="miter"/>
<text x="347.3" y="352.2" font-size="6.8" text-anchor="middle" font-weight="normal" fill="#151515" stroke="#151515" stroke-width="0.1" letter-spacing="-0.3" >QD32</text>
<polygon points="450.20,337.80 450.20,346.00 458.00,341.90" fill="#f4f4f4" stroke="#222" stroke-width="0.9" stroke-linejoin="miter"/>
<polygon points="465.80,337.80 465.80,346.00 458.00,341.90" fill="#f4f4f4" stroke="#222" stroke-width="0.9" stroke-linejoin="miter"/>
<path d="M458.00,341.90 L458.00,335.90" fill="none" stroke="#222" stroke-width="0.9" stroke-linecap="butt" stroke-linejoin="miter"/>
<path d="M454.60,335.90 L461.40,335.90" fill="none" stroke="#222" stroke-width="1.1" stroke-linecap="butt" stroke-linejoin="miter"/>
<text x="457.9" y="352.2" font-size="6.8" text-anchor="middle" font-weight="normal" fill="#151515" stroke="#151515" stroke-width="0.1" letter-spacing="-0.3" >QD33</text>
<polygon points="307.60,349.70 307.60,357.90 315.40,353.80" fill="#f4f4f4" stroke="#222" stroke-width="0.9" stroke-linejoin="miter"/>
<polygon points="323.20,349.70 323.20,357.90 315.40,353.80" fill="#f4f4f4" stroke="#222" stroke-width="0.9" stroke-linejoin="miter"/>
<path d="M315.40,353.80 L315.40,347.80" fill="none" stroke="#222" stroke-width="0.9" stroke-linecap="butt" stroke-linejoin="miter"/>
<path d="M312.00,347.80 L318.80,347.80" fill="none" stroke="#222" stroke-width="1.1" stroke-linecap="butt" stroke-linejoin="miter"/>
<text x="315.4" y="364.9" font-size="6.8" text-anchor="middle" font-weight="normal" fill="#151515" stroke="#151515" stroke-width="0.1" letter-spacing="-0.3" >QD29</text>
<path d="M294.80,353.50 L294.80,375.80 L329.40,375.80" fill="none" stroke="#41ac48" stroke-width="2" stroke-linecap="butt" stroke-linejoin="miter"/>
<path d="M340.00,375.80 L355.00,375.80" fill="none" stroke="#41ac48" stroke-width="2" stroke-linecap="butt" stroke-linejoin="miter"/>
<path d="M365.00,375.80 L368.00,375.80" fill="none" stroke="#41ac48" stroke-width="2" stroke-linecap="butt" stroke-linejoin="miter"/>
<path d="M377.50,375.80 L380.60,375.80" fill="none" stroke="#41ac48" stroke-width="2" stroke-linecap="butt" stroke-linejoin="miter"/>
<path d="M391.20,375.80 L490.20,375.80" fill="none" stroke="#41ac48" stroke-width="2" stroke-linecap="butt" stroke-linejoin="miter"/>
<polygon points="345.00,406.70 345.00,414.90 352.50,410.80" fill="#f4f4f4" stroke="#222" stroke-width="0.9" stroke-linejoin="miter"/>
<polygon points="360.00,406.70 360.00,414.90 352.50,410.80" fill="#161616" stroke="#161616" stroke-width="0.6"/>
<path d="M352.50,410.80 L352.50,404.80" fill="none" stroke="#555" stroke-width="0.9" stroke-linecap="butt" stroke-linejoin="miter"/>
<path d="M349.10,404.80 L355.90,404.80" fill="none" stroke="#555" stroke-width="1.1" stroke-linecap="butt" stroke-linejoin="miter"/>
<path d="M360.20,410.80 L368.00,410.80" fill="none" stroke="#41ac48" stroke-width="2" stroke-linecap="butt" stroke-linejoin="miter"/>
<path d="M377.50,410.80 L380.40,410.80" fill="none" stroke="#41ac48" stroke-width="2" stroke-linecap="butt" stroke-linejoin="miter"/>
<path d="M391.20,410.80 L488.30,410.80 L488.30,656.70 L725.20,656.70 L725.20,634.60" fill="none" stroke="#41ac48" stroke-width="2" stroke-linecap="butt" stroke-linejoin="miter"/>
<text x="352.5" y="421.5" font-size="6.8" text-anchor="middle" font-weight="normal" fill="#151515" stroke="#151515" stroke-width="0.1" letter-spacing="-0.3" >QD20</text>
<path d="M467.30,194.00 L467.30,174.40 L501.00,174.40" fill="none" stroke="#41ac48" stroke-width="1.5" stroke-linecap="butt" stroke-linejoin="miter"/>
<polygon points="473.00,170.30 473.00,178.50 480.80,174.40" fill="#f4f4f4" stroke="#222" stroke-width="0.9" stroke-linejoin="miter"/>
<polygon points="488.60,170.30 488.60,178.50 480.80,174.40" fill="#f4f4f4" stroke="#222" stroke-width="0.9" stroke-linejoin="miter"/>
<path d="M480.80,174.40 L480.80,168.40" fill="none" stroke="#222" stroke-width="0.9" stroke-linecap="butt" stroke-linejoin="miter"/>
<path d="M477.40,168.40 L484.20,168.40" fill="none" stroke="#222" stroke-width="1.1" stroke-linecap="butt" stroke-linejoin="miter"/>
<text x="479.6" y="185.1" font-size="6.8" text-anchor="middle" font-weight="normal" fill="#151515" stroke="#151515" stroke-width="0.1" letter-spacing="-0.3" >QA15</text>
<g transform="translate(500.8,161.2)">
<rect x="0" y="21" width="35.5" height="2" fill="#1b1b1b"/>
<rect x="1.9" y="3" width="9.1" height="18" rx="2" fill="#c7dec9" stroke="#1b1b1b" stroke-width="0.9"/>
<rect x="2.6" y="0" width="8.6" height="3" fill="#c7dec9" stroke="#1b1b1b" stroke-width="0.8"/>
<rect x="0" y="9" width="2" height="7" fill="#1b1b1b"/>
<line x1="6.4" y1="4.5" x2="6.4" y2="20" stroke="#1b1b1b" stroke-width="0.7"/>
<rect x="11" y="9.5" width="5" height="7" fill="#1b1b1b"/>
<rect x="15.5" y="11" width="1.6" height="4" fill="#c7dec9"/>
<rect x="16.5" y="7.5" width="18" height="13.5" rx="2" fill="#c7dec9" stroke="#1b1b1b" stroke-width="0.8"/>
<rect x="19.5" y="4.5" width="8" height="4" rx="1" fill="#c7dec9" stroke="#1b1b1b" stroke-width="0.8"/>
<rect x="21" y="9.5" width="10" height="10.5" fill="#1b1b1b"/>
</g>
<g transform="translate(545.5,161.2) translate(35.5,0) scale(-1,1)">
<rect x="0" y="21" width="35.5" height="2" fill="#1b1b1b"/>
<rect x="1.9" y="3" width="9.1" height="18" rx="2" fill="#c7dec9" stroke="#1b1b1b" stroke-width="0.9"/>
<rect x="2.6" y="0" width="8.6" height="3" fill="#c7dec9" stroke="#1b1b1b" stroke-width="0.8"/>
<rect x="0" y="9" width="2" height="7" fill="#1b1b1b"/>
<line x1="6.4" y1="4.5" x2="6.4" y2="20" stroke="#1b1b1b" stroke-width="0.7"/>
<rect x="11" y="9.5" width="5" height="7" fill="#1b1b1b"/>
<rect x="15.5" y="11" width="1.6" height="4" fill="#c7dec9"/>
<rect x="16.5" y="7.5" width="18" height="13.5" rx="2" fill="#c7dec9" stroke="#1b1b1b" stroke-width="0.8"/>
<rect x="19.5" y="4.5" width="8" height="4" rx="1" fill="#c7dec9" stroke="#1b1b1b" stroke-width="0.8"/>
<rect x="21" y="9.5" width="10" height="10.5" fill="#1b1b1b"/>
</g>
<path d="M515.70,150.20 L567.00,150.20" fill="none" stroke="#41ac48" stroke-width="1.5" stroke-linecap="butt" stroke-linejoin="miter"/>
<path d="M546.40,150.20 L546.40,142.00" fill="none" stroke="#41ac48" stroke-width="1.5" stroke-linecap="butt" stroke-linejoin="miter"/>
<polygon points="546.40,137.50 543.90,143.50 548.90,143.50" fill="#41ac48"/>
<path d="M507.50,158.00 L507.50,161.20" fill="none" stroke="#41ac48" stroke-width="1.2" stroke-linecap="butt" stroke-linejoin="miter"/>
<path d="M574.30,158.00 L574.30,161.20" fill="none" stroke="#41ac48" stroke-width="1.2" stroke-linecap="butt" stroke-linejoin="miter"/>
<polygon points="503.50,157.70 511.70,157.70 507.60,150.20" fill="#f4f4f4" stroke="#222" stroke-width="0.9" stroke-linejoin="miter"/>
<polygon points="515.10,146.10 515.10,154.30 507.60,150.20" fill="#161616" stroke="#161616" stroke-width="0.6"/>
<path d="M507.60,150.20 L507.60,144.20" fill="none" stroke="#888" stroke-width="0.9" stroke-linecap="butt" stroke-linejoin="miter"/>
<path d="M504.20,144.20 L511.00,144.20" fill="none" stroke="#888" stroke-width="1.1" stroke-linecap="butt" stroke-linejoin="miter"/>
<polygon points="570.20,157.70 578.40,157.70 574.30,150.20" fill="#f4f4f4" stroke="#222" stroke-width="0.9" stroke-linejoin="miter"/>
<polygon points="566.80,146.10 566.80,154.30 574.30,150.20" fill="#161616" stroke="#161616" stroke-width="0.6"/>
<path d="M574.30,150.20 L574.30,144.20" fill="none" stroke="#888" stroke-width="0.9" stroke-linecap="butt" stroke-linejoin="miter"/>
<path d="M570.90,144.20 L577.70,144.20" fill="none" stroke="#888" stroke-width="1.1" stroke-linecap="butt" stroke-linejoin="miter"/>
<text x="503.8" y="153.7" font-size="6.8" text-anchor="end" font-weight="normal" fill="#151515" stroke="#151515" stroke-width="0.1" letter-spacing="-0.3" >QA25</text>
<text x="577.5" y="153.7" font-size="6.8" text-anchor="start" font-weight="normal" fill="#151515" stroke="#151515" stroke-width="0.1" letter-spacing="-0.3" >QA24</text>
<text x="546.5" y="135.1" font-size="6.8" text-anchor="middle" font-weight="normal" fill="#151515" stroke="#151515" stroke-width="0.1" >To Deck Seal</text>
<text x="462" y="145.3" font-size="6.8" text-anchor="middle" font-weight="normal" fill="#151515" stroke="#151515" stroke-width="0.1" >Deck Seal</text>
<text x="462" y="153.4" font-size="6.8" text-anchor="middle" font-weight="normal" fill="#151515" stroke="#151515" stroke-width="0.1" >Sea Water</text>
<text x="462" y="162.0" font-size="6.8" text-anchor="middle" font-weight="normal" fill="#151515" stroke="#151515" stroke-width="0.1" >Pumps 3m<tspan dy="-2.3" font-size="4.62">3</tspan><tspan dy="2.3">/h</tspan></text>
<path d="M581.00,175.10 L589.30,175.10 L589.30,212.30" fill="none" stroke="#41ac48" stroke-width="1.5" stroke-linecap="butt" stroke-linejoin="miter"/>
<polygon points="585.20,186.20 593.40,186.20 589.30,194.00" fill="#f4f4f4" stroke="#222" stroke-width="0.9" stroke-linejoin="miter"/>
<polygon points="585.20,201.80 593.40,201.80 589.30,194.00" fill="#f4f4f4" stroke="#222" stroke-width="0.9" stroke-linejoin="miter"/>
<path d="M589.30,194.00 L583.30,194.00" fill="none" stroke="#888" stroke-width="0.9" stroke-linecap="butt" stroke-linejoin="miter"/>
<path d="M583.30,190.60 L583.30,197.40" fill="none" stroke="#888" stroke-width="1.1" stroke-linecap="butt" stroke-linejoin="miter"/>
<text x="593.5" y="196.9" font-size="6.8" text-anchor="start" font-weight="normal" fill="#151515" stroke="#151515" stroke-width="0.1" letter-spacing="-0.3" >QA14</text>
<path d="M457.70,194.00 L457.70,224.40 L496.00,224.40" fill="none" stroke="#41ac48" stroke-width="1.5" stroke-linecap="butt" stroke-linejoin="miter"/>
<path d="M481.70,224.40 L481.70,209.40 L497.00,209.40" fill="none" stroke="#41ac48" stroke-width="1.5" stroke-linecap="butt" stroke-linejoin="miter"/>
<polygon points="503.00,209.40 496.00,206.80 496.00,212.00" fill="#41ac48"/>
<path d="M511.50,224.40 L517.00,224.40" fill="none" stroke="#41ac48" stroke-width="1.5" stroke-linecap="butt" stroke-linejoin="miter"/>
<polygon points="524.00,224.40 517.00,221.80 517.00,227.00" fill="#41ac48"/>
<polygon points="453.60,199.70 461.80,199.70 457.70,207.50" fill="#f4f4f4" stroke="#222" stroke-width="0.9" stroke-linejoin="miter"/>
<polygon points="453.60,215.30 461.80,215.30 457.70,207.50" fill="#f4f4f4" stroke="#222" stroke-width="0.9" stroke-linejoin="miter"/>
<path d="M453.60,199.70 L461.80,215.30" fill="none" stroke="#161616" stroke-width="1.7" stroke-linecap="butt" stroke-linejoin="miter"/>
<path d="M457.70,207.50 L451.70,207.50" fill="none" stroke="#222" stroke-width="0.9" stroke-linecap="butt" stroke-linejoin="miter"/>
<path d="M451.70,204.10 L451.70,210.90" fill="none" stroke="#222" stroke-width="1.1" stroke-linecap="butt" stroke-linejoin="miter"/>
<text x="462" y="209.7" font-size="6.8" text-anchor="start" font-weight="normal" fill="#151515" stroke="#151515" stroke-width="0.1" letter-spacing="-0.3" >QD12</text>
<polygon points="496.00,220.30 496.00,228.50 503.80,224.40" fill="#f4f4f4" stroke="#222" stroke-width="0.9" stroke-linejoin="miter"/>
<polygon points="511.60,220.30 511.60,228.50 503.80,224.40" fill="#f4f4f4" stroke="#222" stroke-width="0.9" stroke-linejoin="miter"/>
<path d="M496.00,228.50 L511.60,220.30" fill="none" stroke="#161616" stroke-width="1.7" stroke-linecap="butt" stroke-linejoin="miter"/>
<path d="M503.80,224.40 L503.80,218.40" fill="none" stroke="#222" stroke-width="0.9" stroke-linecap="butt" stroke-linejoin="miter"/>
<path d="M500.40,218.40 L507.20,218.40" fill="none" stroke="#222" stroke-width="1.1" stroke-linecap="butt" stroke-linejoin="miter"/>
<text x="503.8" y="233.2" font-size="6.8" text-anchor="middle" font-weight="normal" fill="#151515" stroke="#151515" stroke-width="0.1" letter-spacing="-0.3" >QD25</text>
<text x="504.4" y="212.0" font-size="6.8" text-anchor="start" font-weight="normal" fill="#151515" stroke="#151515" stroke-width="0.1" >To Bilge Pump</text>
<text x="522" y="223.6" font-size="6.8" text-anchor="start" font-weight="normal" fill="#151515" stroke="#151515" stroke-width="0.1" >To Sludge</text>
<text x="522" y="231.9" font-size="6.8" text-anchor="start" font-weight="normal" fill="#151515" stroke="#151515" stroke-width="0.1" >Pump</text>
<path d="M631.30,212.30 L631.30,180.90 L658.00,180.90" fill="none" stroke="#41ac48" stroke-width="2" stroke-linecap="butt" stroke-linejoin="miter"/>
<path d="M681.00,180.90 L693.50,180.90 L693.50,152.00" fill="none" stroke="#41ac48" stroke-width="2" stroke-linecap="butt" stroke-linejoin="miter"/>
<polygon points="693.50,145.50 690.70,152.50 696.30,152.50" fill="#41ac48"/>
<polygon points="663.18,177.68 677.12,177.68 677.65,178.80 680.80,178.50 680.80,182.70 678.40,182.85 680.12,187.80 679.75,188.25 658.98,188.25 658.60,187.80 660.55,183.45 657.55,184.50 656.20,179.25 659.80,178.35 661.90,180.30" fill="url(#casing)" stroke="#333" stroke-width="0.52" stroke-linejoin="round"/>
<path d="M663.18,177.68 L660.33,188.10 M677.12,177.68 L679.00,188.10" stroke="#888" stroke-width="0.45" fill="none"/>
<rect x="663.40" y="145.43" width="12.45" height="21.45" rx="2.10" fill="url(#motor)" stroke="#2b4a3a" stroke-width="0.52"/>
<path d="M663.70,149.18 L663.70,147.53 Q663.70,145.73 665.50,145.73 L673.75,145.73 Q675.55,145.73 675.55,147.53 L675.55,149.18 Z" fill="#8dbfa3"/>
<line x1="667.00" y1="149.78" x2="667.00" y2="165.53" stroke="#86b99c" stroke-width="0.45"/>
<line x1="670.15" y1="149.78" x2="670.15" y2="165.53" stroke="#86b99c" stroke-width="0.45"/>
<line x1="673.15" y1="149.78" x2="673.15" y2="165.53" stroke="#86b99c" stroke-width="0.45"/>
<rect x="662.20" y="166.50" width="15.00" height="8.40" fill="#f0f0f0" stroke="#111" stroke-width="0.52"/>
<rect x="662.20" y="166.50" width="15.00" height="1.20" fill="#111"/>
<rect x="662.20" y="173.85" width="15.00" height="1.05" fill="#111"/>
<rect x="666.40" y="167.70" width="6.60" height="6.15" fill="#9a9a9a" stroke="#111" stroke-width="0.45"/>
<rect x="661.60" y="175.35" width="16.05" height="2.33" fill="#fff" stroke="#111" stroke-width="0.60"/>
<polygon points="627.20,188.00 635.40,188.00 631.30,195.80" fill="#f4f4f4" stroke="#222" stroke-width="0.9" stroke-linejoin="miter"/>
<polygon points="627.20,203.60 635.40,203.60 631.30,195.80" fill="#f4f4f4" stroke="#222" stroke-width="0.9" stroke-linejoin="miter"/>
<path d="M627.20,188.00 L635.40,203.60" fill="none" stroke="#161616" stroke-width="1.7" stroke-linecap="butt" stroke-linejoin="miter"/>
<path d="M631.30,195.80 L625.30,195.80" fill="none" stroke="#222" stroke-width="0.9" stroke-linecap="butt" stroke-linejoin="miter"/>
<path d="M625.30,192.40 L625.30,199.20" fill="none" stroke="#222" stroke-width="1.1" stroke-linecap="butt" stroke-linejoin="miter"/>
<polygon points="689.30,159.20 697.50,159.20 693.40,167.00" fill="#f4f4f4" stroke="#222" stroke-width="0.9" stroke-linejoin="miter"/>
<polygon points="689.30,174.80 697.50,174.80 693.40,167.00" fill="#f4f4f4" stroke="#222" stroke-width="0.9" stroke-linejoin="miter"/>
<path d="M689.30,159.20 L697.50,174.80" fill="none" stroke="#161616" stroke-width="1.7" stroke-linecap="butt" stroke-linejoin="miter"/>
<path d="M693.40,167.00 L687.40,167.00" fill="none" stroke="#222" stroke-width="0.9" stroke-linecap="butt" stroke-linejoin="miter"/>
<path d="M687.40,163.60 L687.40,170.40" fill="none" stroke="#222" stroke-width="1.1" stroke-linecap="butt" stroke-linejoin="miter"/>
<text x="635.6" y="198.9" font-size="6.8" text-anchor="start" font-weight="normal" fill="#151515" stroke="#151515" stroke-width="0.1" letter-spacing="-0.3" >TG14</text>
<text x="699" y="170.0" font-size="6.8" text-anchor="start" font-weight="normal" fill="#151515" stroke="#151515" stroke-width="0.1" letter-spacing="-0.3" >TG13</text>
<text x="631.3" y="152.7" font-size="6.8" text-anchor="middle" font-weight="normal" fill="#151515" stroke="#151515" stroke-width="0.1" >Fresh Water</text>
<text x="631.3" y="161.1" font-size="6.8" text-anchor="middle" font-weight="normal" fill="#151515" stroke="#151515" stroke-width="0.1" >Generator</text>
<text x="631.3" y="170.5" font-size="6.8" text-anchor="middle" font-weight="normal" fill="#151515" stroke="#151515" stroke-width="0.1" >Ejector Pump</text>
<text x="631.3" y="177.7" font-size="6.8" text-anchor="middle" font-weight="normal" fill="#151515" stroke="#151515" stroke-width="0.1" >42m<tspan dy="-2.3" font-size="4.62">3</tspan><tspan dy="2.3">/h</tspan></text>
<text x="678.2" y="135.1" font-size="6.8" text-anchor="start" font-weight="normal" fill="#151515" stroke="#151515" stroke-width="0.1" >To Fresh Water</text>
<text x="678.2" y="142.8" font-size="6.8" text-anchor="start" font-weight="normal" fill="#151515" stroke="#151515" stroke-width="0.1" >Generator</text>
<path d="M555.50,417.30 L596.00,417.30" fill="none" stroke="#41ac48" stroke-width="2" stroke-linecap="butt" stroke-linejoin="miter"/>
<path d="M630.00,416.00 L654.20,416.00 L654.20,388.80 L699.80,388.80" fill="none" stroke="#41ac48" stroke-width="2" stroke-linecap="butt" stroke-linejoin="miter"/>
<polygon points="604.66,412.48 625.49,412.48 626.27,414.16 630.98,413.72 630.98,419.99 627.39,420.21 629.97,427.60 629.41,428.28 598.38,428.28 597.82,427.60 600.74,421.11 596.26,422.68 594.24,414.84 599.62,413.49 602.75,416.40" fill="url(#casing)" stroke="#333" stroke-width="0.78" stroke-linejoin="round"/>
<path d="M604.66,412.48 L600.40,428.05 M625.49,412.48 L628.29,428.05" stroke="#888" stroke-width="0.67" fill="none"/>
<rect x="604.99" y="364.32" width="18.59" height="32.03" rx="3.14" fill="url(#motor)" stroke="#2b4a3a" stroke-width="0.78"/>
<path d="M605.44,369.92 L605.44,367.46 Q605.44,364.77 608.13,364.77 L620.45,364.77 Q623.14,364.77 623.14,367.46 L623.14,369.92 Z" fill="#8dbfa3"/>
<line x1="610.37" y1="370.82" x2="610.37" y2="394.34" stroke="#86b99c" stroke-width="0.67"/>
<line x1="615.07" y1="370.82" x2="615.07" y2="394.34" stroke="#86b99c" stroke-width="0.67"/>
<line x1="619.55" y1="370.82" x2="619.55" y2="394.34" stroke="#86b99c" stroke-width="0.67"/>
<rect x="603.20" y="395.80" width="22.40" height="12.54" fill="#f0f0f0" stroke="#111" stroke-width="0.78"/>
<rect x="603.20" y="395.80" width="22.40" height="1.79" fill="#111"/>
<rect x="603.20" y="406.77" width="22.40" height="1.57" fill="#111"/>
<rect x="609.47" y="397.59" width="9.86" height="9.18" fill="#9a9a9a" stroke="#111" stroke-width="0.67"/>
<rect x="602.30" y="409.01" width="23.97" height="3.47" fill="#fff" stroke="#111" stroke-width="0.90"/>
<text x="614.40" y="421.33" font-size="7.2" font-weight="bold" text-anchor="middle" fill="#2a3550">1</text>
<polygon points="566.20,413.20 566.20,421.40 574.00,417.30" fill="#f4f4f4" stroke="#222" stroke-width="0.9" stroke-linejoin="miter"/>
<polygon points="581.80,413.20 581.80,421.40 574.00,417.30" fill="#f4f4f4" stroke="#222" stroke-width="0.9" stroke-linejoin="miter"/>
<path d="M566.20,421.40 L581.80,413.20" fill="none" stroke="#161616" stroke-width="1.7" stroke-linecap="butt" stroke-linejoin="miter"/>
<path d="M574.00,417.30 L574.00,411.30" fill="none" stroke="#222" stroke-width="0.9" stroke-linecap="butt" stroke-linejoin="miter"/>
<path d="M570.60,411.30 L577.40,411.30" fill="none" stroke="#222" stroke-width="1.1" stroke-linecap="butt" stroke-linejoin="miter"/>
<text x="574" y="427.3" font-size="6.8" text-anchor="middle" font-weight="normal" fill="#151515" stroke="#151515" stroke-width="0.1" letter-spacing="-0.3" >QA7</text>
<polygon points="650.10,394.30 658.30,394.30 654.20,402.10" fill="#f4f4f4" stroke="#222" stroke-width="0.9" stroke-linejoin="miter"/>
<polygon points="650.10,409.90 658.30,409.90 654.20,402.10" fill="#f4f4f4" stroke="#222" stroke-width="0.9" stroke-linejoin="miter"/>
<path d="M650.10,394.30 L658.30,409.90" fill="none" stroke="#161616" stroke-width="1.7" stroke-linecap="butt" stroke-linejoin="miter"/>
<path d="M654.20,402.10 L648.20,402.10" fill="none" stroke="#222" stroke-width="0.9" stroke-linecap="butt" stroke-linejoin="miter"/>
<path d="M648.20,398.70 L648.20,405.50" fill="none" stroke="#222" stroke-width="1.1" stroke-linecap="butt" stroke-linejoin="miter"/>
<text x="658.2" y="404.7" font-size="6.8" text-anchor="start" font-weight="normal" fill="#151515" stroke="#151515" stroke-width="0.1" letter-spacing="-0.3" >QA21</text>
<path d="M555.50,487.00 L596.00,487.00" fill="none" stroke="#41ac48" stroke-width="2" stroke-linecap="butt" stroke-linejoin="miter"/>
<path d="M630.00,485.70 L654.20,485.70 L654.20,459.00 L699.80,459.00" fill="none" stroke="#41ac48" stroke-width="2" stroke-linecap="butt" stroke-linejoin="miter"/>
<polygon points="604.66,482.18 625.49,482.18 626.27,483.86 630.98,483.42 630.98,489.69 627.39,489.91 629.97,497.30 629.41,497.98 598.38,497.98 597.82,497.30 600.74,490.81 596.26,492.38 594.24,484.54 599.62,483.19 602.75,486.10" fill="url(#casing)" stroke="#333" stroke-width="0.78" stroke-linejoin="round"/>
<path d="M604.66,482.18 L600.40,497.75 M625.49,482.18 L628.29,497.75" stroke="#888" stroke-width="0.67" fill="none"/>
<rect x="604.99" y="434.02" width="18.59" height="32.03" rx="3.14" fill="url(#motor)" stroke="#2b4a3a" stroke-width="0.78"/>
<path d="M605.44,439.62 L605.44,437.16 Q605.44,434.47 608.13,434.47 L620.45,434.47 Q623.14,434.47 623.14,437.16 L623.14,439.62 Z" fill="#8dbfa3"/>
<line x1="610.37" y1="440.52" x2="610.37" y2="464.04" stroke="#86b99c" stroke-width="0.67"/>
<line x1="615.07" y1="440.52" x2="615.07" y2="464.04" stroke="#86b99c" stroke-width="0.67"/>
<line x1="619.55" y1="440.52" x2="619.55" y2="464.04" stroke="#86b99c" stroke-width="0.67"/>
<rect x="603.20" y="465.50" width="22.40" height="12.54" fill="#f0f0f0" stroke="#111" stroke-width="0.78"/>
<rect x="603.20" y="465.50" width="22.40" height="1.79" fill="#111"/>
<rect x="603.20" y="476.47" width="22.40" height="1.57" fill="#111"/>
<rect x="609.47" y="467.29" width="9.86" height="9.18" fill="#9a9a9a" stroke="#111" stroke-width="0.67"/>
<rect x="602.30" y="478.71" width="23.97" height="3.47" fill="#fff" stroke="#111" stroke-width="0.90"/>
<text x="614.40" y="491.03" font-size="7.2" font-weight="bold" text-anchor="middle" fill="#2a3550">2</text>
<polygon points="566.20,482.90 566.20,491.10 574.00,487.00" fill="#f4f4f4" stroke="#222" stroke-width="0.9" stroke-linejoin="miter"/>
<polygon points="581.80,482.90 581.80,491.10 574.00,487.00" fill="#f4f4f4" stroke="#222" stroke-width="0.9" stroke-linejoin="miter"/>
<path d="M566.20,491.10 L581.80,482.90" fill="none" stroke="#161616" stroke-width="1.7" stroke-linecap="butt" stroke-linejoin="miter"/>
<path d="M574.00,487.00 L574.00,481.00" fill="none" stroke="#222" stroke-width="0.9" stroke-linecap="butt" stroke-linejoin="miter"/>
<path d="M570.60,481.00 L577.40,481.00" fill="none" stroke="#222" stroke-width="1.1" stroke-linecap="butt" stroke-linejoin="miter"/>
<text x="574" y="497.0" font-size="6.8" text-anchor="middle" font-weight="normal" fill="#151515" stroke="#151515" stroke-width="0.1" letter-spacing="-0.3" >QA6</text>
<polygon points="650.10,464.00 658.30,464.00 654.20,471.80" fill="#f4f4f4" stroke="#222" stroke-width="0.9" stroke-linejoin="miter"/>
<polygon points="650.10,479.60 658.30,479.60 654.20,471.80" fill="#f4f4f4" stroke="#222" stroke-width="0.9" stroke-linejoin="miter"/>
<path d="M650.10,464.00 L658.30,479.60" fill="none" stroke="#161616" stroke-width="1.7" stroke-linecap="butt" stroke-linejoin="miter"/>
<path d="M654.20,471.80 L648.20,471.80" fill="none" stroke="#222" stroke-width="0.9" stroke-linecap="butt" stroke-linejoin="miter"/>
<path d="M648.20,468.40 L648.20,475.20" fill="none" stroke="#222" stroke-width="1.1" stroke-linecap="butt" stroke-linejoin="miter"/>
<text x="658.2" y="474.4" font-size="6.8" text-anchor="start" font-weight="normal" fill="#151515" stroke="#151515" stroke-width="0.1" letter-spacing="-0.3" >QA20</text>
<path d="M555.50,555.40 L596.00,555.40" fill="none" stroke="#41ac48" stroke-width="2" stroke-linecap="butt" stroke-linejoin="miter"/>
<path d="M630.00,554.10 L654.20,554.10 L654.20,527.50 L699.80,527.50" fill="none" stroke="#41ac48" stroke-width="2" stroke-linecap="butt" stroke-linejoin="miter"/>
<polygon points="604.66,550.58 625.49,550.58 626.27,552.26 630.98,551.82 630.98,558.09 627.39,558.31 629.97,565.70 629.41,566.38 598.38,566.38 597.82,565.70 600.74,559.21 596.26,560.78 594.24,552.94 599.62,551.59 602.75,554.50" fill="url(#casing)" stroke="#333" stroke-width="0.78" stroke-linejoin="round"/>
<path d="M604.66,550.58 L600.40,566.15 M625.49,550.58 L628.29,566.15" stroke="#888" stroke-width="0.67" fill="none"/>
<rect x="604.99" y="502.42" width="18.59" height="32.03" rx="3.14" fill="url(#motor)" stroke="#2b4a3a" stroke-width="0.78"/>
<path d="M605.44,508.02 L605.44,505.56 Q605.44,502.87 608.13,502.87 L620.45,502.87 Q623.14,502.87 623.14,505.56 L623.14,508.02 Z" fill="#8dbfa3"/>
<line x1="610.37" y1="508.92" x2="610.37" y2="532.44" stroke="#86b99c" stroke-width="0.67"/>
<line x1="615.07" y1="508.92" x2="615.07" y2="532.44" stroke="#86b99c" stroke-width="0.67"/>
<line x1="619.55" y1="508.92" x2="619.55" y2="532.44" stroke="#86b99c" stroke-width="0.67"/>
<rect x="603.20" y="533.90" width="22.40" height="12.54" fill="#f0f0f0" stroke="#111" stroke-width="0.78"/>
<rect x="603.20" y="533.90" width="22.40" height="1.79" fill="#111"/>
<rect x="603.20" y="544.87" width="22.40" height="1.57" fill="#111"/>
<rect x="609.47" y="535.69" width="9.86" height="9.18" fill="#9a9a9a" stroke="#111" stroke-width="0.67"/>
<rect x="602.30" y="547.11" width="23.97" height="3.47" fill="#fff" stroke="#111" stroke-width="0.90"/>
<text x="614.40" y="559.43" font-size="7.2" font-weight="bold" text-anchor="middle" fill="#2a3550">3</text>
<polygon points="566.20,551.30 566.20,559.50 574.00,555.40" fill="#f4f4f4" stroke="#222" stroke-width="0.9" stroke-linejoin="miter"/>
<polygon points="581.80,551.30 581.80,559.50 574.00,555.40" fill="#f4f4f4" stroke="#222" stroke-width="0.9" stroke-linejoin="miter"/>
<path d="M566.20,559.50 L581.80,551.30" fill="none" stroke="#161616" stroke-width="1.7" stroke-linecap="butt" stroke-linejoin="miter"/>
<path d="M574.00,555.40 L574.00,549.40" fill="none" stroke="#222" stroke-width="0.9" stroke-linecap="butt" stroke-linejoin="miter"/>
<path d="M570.60,549.40 L577.40,549.40" fill="none" stroke="#222" stroke-width="1.1" stroke-linecap="butt" stroke-linejoin="miter"/>
<text x="574" y="565.4" font-size="6.8" text-anchor="middle" font-weight="normal" fill="#151515" stroke="#151515" stroke-width="0.1" letter-spacing="-0.3" >QA5</text>
<polygon points="650.10,532.40 658.30,532.40 654.20,540.20" fill="#f4f4f4" stroke="#222" stroke-width="0.9" stroke-linejoin="miter"/>
<polygon points="650.10,548.00 658.30,548.00 654.20,540.20" fill="#f4f4f4" stroke="#222" stroke-width="0.9" stroke-linejoin="miter"/>
<path d="M650.10,532.40 L658.30,548.00" fill="none" stroke="#161616" stroke-width="1.7" stroke-linecap="butt" stroke-linejoin="miter"/>
<path d="M654.20,540.20 L648.20,540.20" fill="none" stroke="#222" stroke-width="0.9" stroke-linecap="butt" stroke-linejoin="miter"/>
<path d="M648.20,536.80 L648.20,543.60" fill="none" stroke="#222" stroke-width="1.1" stroke-linecap="butt" stroke-linejoin="miter"/>
<text x="658.2" y="542.8" font-size="6.8" text-anchor="start" font-weight="normal" fill="#151515" stroke="#151515" stroke-width="0.1" letter-spacing="-0.3" >QA19</text>
<path d="M698.80,363.80 L698.80,528.50" fill="none" stroke="#41ac48" stroke-width="2" stroke-linecap="butt" stroke-linejoin="miter"/>
<text x="664.6" y="430.9" font-size="6.8" text-anchor="middle" font-weight="normal" fill="#151515" stroke="#151515" stroke-width="0.1" >Main Cooling</text>
<text x="664.6" y="439.2" font-size="6.8" text-anchor="middle" font-weight="normal" fill="#151515" stroke="#151515" stroke-width="0.1" >Sea Water Pumps</text>
<text x="664.6" y="447.2" font-size="6.8" text-anchor="middle" font-weight="normal" fill="#151515" stroke="#151515" stroke-width="0.1" >300m<tspan dy="-2.3" font-size="4.62">3</tspan><tspan dy="2.3">/h</tspan></text>
<path d="M517.00,567.00 L549.00,567.00" fill="none" stroke="#999" stroke-width="1" stroke-linecap="butt" stroke-linejoin="miter"/>
<path d="M558.70,567.00 L584.60,567.00" fill="none" stroke="#999" stroke-width="1" stroke-linecap="butt" stroke-linejoin="miter"/>
<polygon points="518,567 511,564 511,570" fill="#999"/>
<polygon points="523.00,562.90 523.00,571.10 530.80,567.00" fill="#f4f4f4" stroke="#666" stroke-width="0.9" stroke-linejoin="miter"/>
<polygon points="538.60,562.90 538.60,571.10 530.80,567.00" fill="#f4f4f4" stroke="#666" stroke-width="0.9" stroke-linejoin="miter"/>
<path d="M530.80,567.00 L530.80,561.00" fill="none" stroke="#333" stroke-width="0.9" stroke-linecap="butt" stroke-linejoin="miter"/>
<path d="M527.40,561.00 L534.20,561.00" fill="none" stroke="#333" stroke-width="1.1" stroke-linecap="butt" stroke-linejoin="miter"/>
<text x="530.8" y="579.2" font-size="6.8" text-anchor="middle" font-weight="normal" fill="#151515" stroke="#151515" stroke-width="0.1" letter-spacing="-0.3" >RK133</text>
<path d="M587.70,555.40 L587.70,582.00 L638.50,582.00" fill="none" stroke="#41ac48" stroke-width="2" stroke-linecap="butt" stroke-linejoin="miter"/>
<path d="M591.5,570 L591.5,576 L597,576 L597,570 Z" fill="#fff" stroke="#333" stroke-width="0.8"/>
<path d="M593.20,576.00 L593.20,581.00" fill="none" stroke="#333" stroke-width="0.8" stroke-linecap="butt" stroke-linejoin="miter"/>
<path d="M595.30,576.00 L595.30,581.00" fill="none" stroke="#333" stroke-width="0.8" stroke-linecap="butt" stroke-linejoin="miter"/>
<path d="M594.20,567.00 L594.20,570.00" fill="none" stroke="#333" stroke-width="0.8" stroke-linecap="butt" stroke-linejoin="miter"/>
<text x="611.5" y="573.0" font-size="6.8" text-anchor="middle" font-weight="normal" fill="#151515" stroke="#151515" stroke-width="0.1" >Priming</text>
<text x="611.5" y="580.7" font-size="6.8" text-anchor="middle" font-weight="normal" fill="#151515" stroke="#151515" stroke-width="0.1" >Unit</text>
<path d="M646.20,591.00 L646.20,625.00" fill="none" stroke="#161616" stroke-width="2.2" stroke-linecap="butt" stroke-linejoin="miter"/>
<polygon points="642.10,591.70 650.30,591.70 646.20,584.20" fill="#f4f4f4" stroke="#222" stroke-width="0.9" stroke-linejoin="miter"/>
<polygon points="638.70,580.10 638.70,588.30 646.20,584.20" fill="#161616" stroke="#161616" stroke-width="0.6"/>
<path d="M646.20,584.20 L646.20,563.20" fill="none" stroke="#999" stroke-width="0.9" stroke-linecap="butt" stroke-linejoin="miter"/>
<path d="M642.80,563.20 L649.60,563.20" fill="none" stroke="#999" stroke-width="1.1" stroke-linecap="butt" stroke-linejoin="miter"/>
<text x="649" y="585.3" font-size="6.8" text-anchor="start" font-weight="normal" fill="#151515" stroke="#151515" stroke-width="0.1" letter-spacing="-0.3" >QA23</text>
<text x="668.3" y="598.0" font-size="6.8" text-anchor="middle" font-weight="normal" fill="#151515" stroke="#151515" stroke-width="0.1" >Direct Bilge</text>
<text x="668.3" y="607.0" font-size="6.8" text-anchor="middle" font-weight="normal" fill="#151515" stroke="#151515" stroke-width="0.1" >Injection</text>
<polygon points="606.37,631.07 621.62,631.07 622.19,632.30 625.64,631.98 625.64,636.57 623.01,636.73 624.90,642.14 624.49,642.64 601.77,642.64 601.36,642.14 603.50,637.39 600.22,638.54 598.74,632.80 602.68,631.81 604.97,633.94" fill="url(#casing)" stroke="#333" stroke-width="0.57" stroke-linejoin="round"/>
<path d="M606.37,631.07 L603.25,642.47 M621.62,631.07 L623.67,642.47" stroke="#888" stroke-width="0.49" fill="none"/>
<rect x="606.61" y="595.81" width="13.61" height="23.45" rx="2.30" fill="url(#motor)" stroke="#2b4a3a" stroke-width="0.57"/>
<path d="M606.94,599.91 L606.94,598.11 Q606.94,596.14 608.91,596.14 L617.93,596.14 Q619.90,596.14 619.90,598.11 L619.90,599.91 Z" fill="#8dbfa3"/>
<line x1="610.55" y1="600.57" x2="610.55" y2="617.79" stroke="#86b99c" stroke-width="0.49"/>
<line x1="613.99" y1="600.57" x2="613.99" y2="617.79" stroke="#86b99c" stroke-width="0.49"/>
<line x1="617.27" y1="600.57" x2="617.27" y2="617.79" stroke="#86b99c" stroke-width="0.49"/>
<rect x="605.30" y="618.86" width="16.40" height="9.18" fill="#f0f0f0" stroke="#111" stroke-width="0.57"/>
<rect x="605.30" y="618.86" width="16.40" height="1.31" fill="#111"/>
<rect x="605.30" y="626.89" width="16.40" height="1.15" fill="#111"/>
<rect x="609.89" y="620.17" width="7.22" height="6.72" fill="#9a9a9a" stroke="#111" stroke-width="0.49"/>
<rect x="604.64" y="628.53" width="17.55" height="2.54" fill="#fff" stroke="#111" stroke-width="0.66"/>
<polygon points="575.80,630.50 575.80,638.70 583.60,634.60" fill="#f4f4f4" stroke="#222" stroke-width="0.9" stroke-linejoin="miter"/>
<polygon points="591.40,630.50 591.40,638.70 583.60,634.60" fill="#f4f4f4" stroke="#222" stroke-width="0.9" stroke-linejoin="miter"/>
<path d="M583.60,634.60 L583.60,628.60" fill="none" stroke="#222" stroke-width="0.9" stroke-linecap="butt" stroke-linejoin="miter"/>
<path d="M580.20,628.60 L587.00,628.60" fill="none" stroke="#222" stroke-width="1.1" stroke-linecap="butt" stroke-linejoin="miter"/>
<text x="583.6" y="646.1" font-size="6.8" text-anchor="middle" font-weight="normal" fill="#151515" stroke="#151515" stroke-width="0.1" letter-spacing="-0.3" >QA16</text>
<polygon points="655.00,630.50 655.00,638.70 662.50,634.60" fill="#f4f4f4" stroke="#222" stroke-width="0.9" stroke-linejoin="miter"/>
<polygon points="670.00,630.50 670.00,638.70 662.50,634.60" fill="#161616" stroke="#161616" stroke-width="0.6"/>
<path d="M662.50,634.60 L662.50,628.60" fill="none" stroke="#555" stroke-width="0.9" stroke-linecap="butt" stroke-linejoin="miter"/>
<path d="M659.10,628.60 L665.90,628.60" fill="none" stroke="#555" stroke-width="1.1" stroke-linecap="butt" stroke-linejoin="miter"/>
<text x="662.5" y="646.1" font-size="6.8" text-anchor="middle" font-weight="normal" fill="#151515" stroke="#151515" stroke-width="0.1" letter-spacing="-0.3" >QA32</text>
<polygon points="681.60,630.50 681.60,638.70 689.40,634.60" fill="#f4f4f4" stroke="#222" stroke-width="0.9" stroke-linejoin="miter"/>
<polygon points="697.20,630.50 697.20,638.70 689.40,634.60" fill="#f4f4f4" stroke="#222" stroke-width="0.9" stroke-linejoin="miter"/>
<path d="M681.60,638.70 L697.20,630.50" fill="none" stroke="#161616" stroke-width="1.7" stroke-linecap="butt" stroke-linejoin="miter"/>
<path d="M689.40,634.60 L689.40,628.60" fill="none" stroke="#222" stroke-width="0.9" stroke-linecap="butt" stroke-linejoin="miter"/>
<path d="M686.00,628.60 L692.80,628.60" fill="none" stroke="#222" stroke-width="1.1" stroke-linecap="butt" stroke-linejoin="miter"/>
<text x="689.4" y="646.1" font-size="6.8" text-anchor="middle" font-weight="normal" fill="#151515" stroke="#151515" stroke-width="0.1" letter-spacing="-0.3" >QA39</text>
<polygon points="767.20,603.90 775.40,603.90 771.30,611.70" fill="#f4f4f4" stroke="#222" stroke-width="0.9" stroke-linejoin="miter"/>
<polygon points="767.20,619.50 775.40,619.50 771.30,611.70" fill="#f4f4f4" stroke="#222" stroke-width="0.9" stroke-linejoin="miter"/>
<path d="M767.20,603.90 L775.40,619.50" fill="none" stroke="#161616" stroke-width="1.7" stroke-linecap="butt" stroke-linejoin="miter"/>
<path d="M771.30,611.70 L765.30,611.70" fill="none" stroke="#222" stroke-width="0.9" stroke-linecap="butt" stroke-linejoin="miter"/>
<path d="M765.30,608.30 L765.30,615.10" fill="none" stroke="#222" stroke-width="1.1" stroke-linecap="butt" stroke-linejoin="miter"/>
<text x="775.6" y="614.3" font-size="6.8" text-anchor="start" font-weight="normal" fill="#151515" stroke="#151515" stroke-width="0.1" letter-spacing="-0.3" >QA17</text>
<text x="771" y="578.7" font-size="6.8" text-anchor="middle" font-weight="normal" fill="#151515" stroke="#151515" stroke-width="0.1" >To IGG Unit</text>
<polygon points="721.10,638.90 729.30,638.90 725.20,646.70" fill="#f4f4f4" stroke="#222" stroke-width="0.9" stroke-linejoin="miter"/>
<polygon points="721.10,654.50 729.30,654.50 725.20,646.70" fill="#f4f4f4" stroke="#222" stroke-width="0.9" stroke-linejoin="miter"/>
<path d="M721.10,638.90 L729.30,654.50" fill="none" stroke="#161616" stroke-width="1.7" stroke-linecap="butt" stroke-linejoin="miter"/>
<path d="M725.20,646.70 L719.20,646.70" fill="none" stroke="#222" stroke-width="0.9" stroke-linecap="butt" stroke-linejoin="miter"/>
<path d="M719.20,643.30 L719.20,650.10" fill="none" stroke="#222" stroke-width="1.1" stroke-linecap="butt" stroke-linejoin="miter"/>
<text x="729.8" y="649.3" font-size="6.8" text-anchor="start" font-weight="normal" fill="#151515" stroke="#151515" stroke-width="0.1" letter-spacing="-0.3" >QA18</text>
<text x="772.9" y="645.6" font-size="6.8" text-anchor="middle" font-weight="normal" fill="#151515" stroke="#151515" stroke-width="0.1" >Cross Connection</text>
<text x="772.9" y="654.2" font-size="6.8" text-anchor="middle" font-weight="normal" fill="#151515" stroke="#151515" stroke-width="0.1" >From Fire Pump</text>
<text x="586.5" y="598.0" font-size="6.8" text-anchor="middle" font-weight="normal" fill="#151515" stroke="#151515" stroke-width="0.1" >Inert Gas</text>
<text x="586.5" y="606.1" font-size="6.8" text-anchor="middle" font-weight="normal" fill="#151515" stroke="#151515" stroke-width="0.1" >Scrubbing</text>
<text x="586.5" y="613.7" font-size="6.8" text-anchor="middle" font-weight="normal" fill="#151515" stroke="#151515" stroke-width="0.1" >Pump</text>
<text x="586.5" y="623.0" font-size="6.8" text-anchor="middle" font-weight="normal" fill="#151515" stroke="#151515" stroke-width="0.1" >280m<tspan dy="-2.3" font-size="4.62">3</tspan><tspan dy="2.3">/h</tspan></text>
<path d="M698.80,363.80 L768.60,363.80" fill="none" stroke="#41ac48" stroke-width="2" stroke-linecap="butt" stroke-linejoin="miter"/>
<path d="M768.60,338.00 L768.60,465.00 L836.20,465.00 L836.20,432.40" fill="none" stroke="#41ac48" stroke-width="2" stroke-linecap="butt" stroke-linejoin="miter"/>
<path d="M768.60,338.00 L792.70,338.00" fill="none" stroke="#41ac48" stroke-width="2" stroke-linecap="butt" stroke-linejoin="miter"/>
<path d="M801.90,338.00 L836.20,338.00 L836.20,308.70" fill="none" stroke="#41ac48" stroke-width="2" stroke-linecap="butt" stroke-linejoin="miter"/>
<path d="M797.80,308.70 L797.80,432.40 L865.00,432.40" fill="none" stroke="#41ac48" stroke-width="2" stroke-linecap="butt" stroke-linejoin="miter"/>
<path d="M797.80,308.70 L865.00,308.70" fill="none" stroke="#41ac48" stroke-width="2" stroke-linecap="butt" stroke-linejoin="miter"/>
<path d="M797.80,359.80 L830.50,359.80" fill="none" stroke="#41ac48" stroke-width="2" stroke-linecap="butt" stroke-linejoin="miter"/>
<path d="M841.30,359.80 L926.80,359.80 L926.80,262.20 L948.00,262.20" fill="none" stroke="#41ac48" stroke-width="2" stroke-linecap="butt" stroke-linejoin="miter"/>
<path d="M910.50,238.50 L910.50,346.60 L836.20,346.60 L836.20,385.80 L865.00,385.80" fill="none" stroke="#41ac48" stroke-width="2" stroke-linecap="butt" stroke-linejoin="miter"/>
<path d="M829.00,262.00 L822.70,262.00 L822.70,238.50 L939.40,238.50 L939.40,262.20" fill="none" stroke="#41ac48" stroke-width="2" stroke-linecap="butt" stroke-linejoin="miter"/>
<path d="M844.00,262.00 L865.00,262.00" fill="none" stroke="#41ac48" stroke-width="2" stroke-linecap="butt" stroke-linejoin="miter"/>
<rect x="861.4" y="245.2" width="8.4" height="78.60000000000002" fill="#6ca84a" stroke="#1a1a1a" stroke-width="1"/>
<rect x="862" y="245.7" width="7.2" height="2.5" fill="#a9c98a"/>
<rect x="869.8" y="249.2" width="16.5" height="70.60000000000002" fill="#434a4b"/>
<rect x="886.3" y="245.2" width="7.4" height="78.60000000000002" fill="#2eb2e4" stroke="#1a1a1a" stroke-width="1"/>
<rect x="887" y="245.7" width="6" height="2.5" fill="#8dd4ef"/>
<path d="M861.4,259.3 L864.4,259.3 A2.7,2.7 0 0 1 864.4,264.7 L861.4,264.7" fill="#fff" stroke="#1a1a1a" stroke-width="0.8"/>
<rect x="860.6" y="259.7" width="1.6" height="4.6" fill="#fff"/>
<path d="M893.7,259.3 L891.2,259.3 A2.7,2.7 0 0 0 891.2,264.7 L893.7,264.7" fill="#fff" stroke="#1a1a1a" stroke-width="0.8"/>
<rect x="893" y="259.7" width="1.6" height="4.6" fill="#fff"/>
<path d="M861.4,306.0 L864.4,306.0 A2.7,2.7 0 0 1 864.4,311.4 L861.4,311.4" fill="#fff" stroke="#1a1a1a" stroke-width="0.8"/>
<rect x="860.6" y="306.4" width="1.6" height="4.6" fill="#fff"/>
<path d="M893.7,306.0 L891.2,306.0 A2.7,2.7 0 0 0 891.2,311.4 L893.7,311.4" fill="#fff" stroke="#1a1a1a" stroke-width="0.8"/>
<rect x="893" y="306.4" width="1.6" height="4.6" fill="#fff"/>
<rect x="861.4" y="370" width="8.4" height="77.69999999999999" fill="#6ca84a" stroke="#1a1a1a" stroke-width="1"/>
<rect x="862" y="370.5" width="7.2" height="2.5" fill="#a9c98a"/>
<rect x="869.8" y="374" width="16.5" height="69.69999999999999" fill="#434a4b"/>
<rect x="886.3" y="370" width="7.4" height="77.69999999999999" fill="#2eb2e4" stroke="#1a1a1a" stroke-width="1"/>
<rect x="887" y="370.5" width="6" height="2.5" fill="#8dd4ef"/>
<path d="M861.4,383.1 L864.4,383.1 A2.7,2.7 0 0 1 864.4,388.5 L861.4,388.5" fill="#fff" stroke="#1a1a1a" stroke-width="0.8"/>
<rect x="860.6" y="383.5" width="1.6" height="4.6" fill="#fff"/>
<path d="M893.7,383.1 L891.2,383.1 A2.7,2.7 0 0 0 891.2,388.5 L893.7,388.5" fill="#fff" stroke="#1a1a1a" stroke-width="0.8"/>
<rect x="893" y="383.5" width="1.6" height="4.6" fill="#fff"/>
<path d="M861.4,429.7 L864.4,429.7 A2.7,2.7 0 0 1 864.4,435.09999999999997 L861.4,435.09999999999997" fill="#fff" stroke="#1a1a1a" stroke-width="0.8"/>
<rect x="860.6" y="430.09999999999997" width="1.6" height="4.6" fill="#fff"/>
<path d="M893.7,429.7 L891.2,429.7 A2.7,2.7 0 0 0 891.2,435.09999999999997 L893.7,435.09999999999997" fill="#fff" stroke="#1a1a1a" stroke-width="0.8"/>
<rect x="893" y="430.09999999999997" width="1.6" height="4.6" fill="#fff"/>
<polygon points="828.40,257.90 828.40,266.10 836.20,262.00" fill="#f4f4f4" stroke="#222" stroke-width="0.9" stroke-linejoin="miter"/>
<polygon points="844.00,257.90 844.00,266.10 836.20,262.00" fill="#f4f4f4" stroke="#222" stroke-width="0.9" stroke-linejoin="miter"/>
<path d="M828.40,266.10 L844.00,257.90" fill="none" stroke="#161616" stroke-width="1.7" stroke-linecap="butt" stroke-linejoin="miter"/>
<path d="M836.20,262.00 L836.20,256.00" fill="none" stroke="#222" stroke-width="0.9" stroke-linecap="butt" stroke-linejoin="miter"/>
<path d="M832.80,256.00 L839.60,256.00" fill="none" stroke="#222" stroke-width="1.1" stroke-linecap="butt" stroke-linejoin="miter"/>
<text x="836.2" y="273.4" font-size="6.8" text-anchor="middle" font-weight="normal" fill="#151515" stroke="#151515" stroke-width="0.1" letter-spacing="-0.3" >QA8</text>
<polygon points="848.30,249.50 854.70,249.50 851.50,255.00" fill="#f4f4f4" stroke="#333" stroke-width="0.8" stroke-linejoin="miter"/>
<polygon points="848.30,260.50 854.70,260.50 851.50,255.00" fill="#f4f4f4" stroke="#333" stroke-width="0.8" stroke-linejoin="miter"/>
<path d="M847.00,255.00 L851.50,255.00" fill="none" stroke="#555" stroke-width="0.8" stroke-linecap="butt" stroke-linejoin="miter"/>
<path d="M851.5,249.5 L851.5,244.5 A3.2,3.2 0 0 1 857.9,244.5 L857.9,247.5" fill="none" stroke="#222" stroke-width="0.9"/>
<polygon points="848.30,372.50 854.70,372.50 851.50,378.00" fill="#f4f4f4" stroke="#333" stroke-width="0.8" stroke-linejoin="miter"/>
<polygon points="848.30,383.50 854.70,383.50 851.50,378.00" fill="#f4f4f4" stroke="#333" stroke-width="0.8" stroke-linejoin="miter"/>
<path d="M847.00,378.00 L851.50,378.00" fill="none" stroke="#555" stroke-width="0.8" stroke-linecap="butt" stroke-linejoin="miter"/>
<path d="M851.5,372.5 L851.5,367.5 A3.2,3.2 0 0 1 857.9,367.5 L857.9,370.5" fill="none" stroke="#222" stroke-width="0.9"/>
<text x="830.8" y="282.4" font-size="6.8" text-anchor="middle" font-weight="normal" fill="#151515" stroke="#151515" stroke-width="0.1" >No.2</text>
<text x="830.8" y="290.5" font-size="6.8" text-anchor="middle" font-weight="normal" fill="#151515" stroke="#151515" stroke-width="0.1" >Central</text>
<text x="830.8" y="298.4" font-size="6.8" text-anchor="middle" font-weight="normal" fill="#151515" stroke="#151515" stroke-width="0.1" >Cooler</text>
<text x="831" y="400.4" font-size="6.8" text-anchor="middle" font-weight="normal" fill="#151515" stroke="#151515" stroke-width="0.1" >No.2</text>
<text x="831" y="409.0" font-size="6.8" text-anchor="middle" font-weight="normal" fill="#151515" stroke="#151515" stroke-width="0.1" >Central</text>
<text x="831" y="417.7" font-size="6.8" text-anchor="middle" font-weight="normal" fill="#151515" stroke="#151515" stroke-width="0.1" >Cooler</text>
<path d="M853.00,302.40 L853.00,308.70" fill="none" stroke="#222" stroke-width="0.8" stroke-linecap="butt" stroke-linejoin="miter"/>
<circle cx="853" cy="296.2" r="6.2" fill="#fff" stroke="#222" stroke-width="0.8"/>
<text x="853" y="298.7" font-size="7" text-anchor="middle" fill="#222">TI</text>
<path d="M853.00,425.70 L853.00,432.40" fill="none" stroke="#222" stroke-width="0.8" stroke-linecap="butt" stroke-linejoin="miter"/>
<circle cx="853" cy="419.5" r="6.2" fill="#fff" stroke="#222" stroke-width="0.8"/>
<text x="853" y="422.0" font-size="7" text-anchor="middle" fill="#222">TI</text>
<polygon points="808.20,304.40 808.20,312.60 816.00,308.50" fill="#f4f4f4" stroke="#222" stroke-width="0.9" stroke-linejoin="miter"/>
<polygon points="823.80,304.40 823.80,312.60 816.00,308.50" fill="#f4f4f4" stroke="#222" stroke-width="0.9" stroke-linejoin="miter"/>
<path d="M808.20,312.60 L823.80,304.40" fill="none" stroke="#161616" stroke-width="1.7" stroke-linecap="butt" stroke-linejoin="miter"/>
<path d="M816.00,308.50 L816.00,302.50" fill="none" stroke="#222" stroke-width="0.9" stroke-linecap="butt" stroke-linejoin="miter"/>
<path d="M812.60,302.50 L819.40,302.50" fill="none" stroke="#222" stroke-width="1.1" stroke-linecap="butt" stroke-linejoin="miter"/>
<text x="816" y="319.0" font-size="6.8" text-anchor="middle" font-weight="normal" fill="#151515" stroke="#151515" stroke-width="0.1" letter-spacing="-0.3" >QA42</text>
<polygon points="832.10,315.20 840.30,315.20 836.20,323.00" fill="#f4f4f4" stroke="#222" stroke-width="0.9" stroke-linejoin="miter"/>
<polygon points="832.10,330.80 840.30,330.80 836.20,323.00" fill="#f4f4f4" stroke="#222" stroke-width="0.9" stroke-linejoin="miter"/>
<path d="M832.10,315.20 L840.30,330.80" fill="none" stroke="#161616" stroke-width="1.7" stroke-linecap="butt" stroke-linejoin="miter"/>
<path d="M836.20,323.00 L830.20,323.00" fill="none" stroke="#222" stroke-width="0.9" stroke-linecap="butt" stroke-linejoin="miter"/>
<path d="M830.20,319.60 L830.20,326.40" fill="none" stroke="#222" stroke-width="1.1" stroke-linecap="butt" stroke-linejoin="miter"/>
<text x="840" y="325.7" font-size="6.8" text-anchor="start" font-weight="normal" fill="#151515" stroke="#151515" stroke-width="0.1" letter-spacing="-0.3" >QA9</text>
<polygon points="808.00,428.30 808.00,436.50 815.80,432.40" fill="#f4f4f4" stroke="#222" stroke-width="0.9" stroke-linejoin="miter"/>
<polygon points="823.60,428.30 823.60,436.50 815.80,432.40" fill="#f4f4f4" stroke="#222" stroke-width="0.9" stroke-linejoin="miter"/>
<path d="M808.00,436.50 L823.60,428.30" fill="none" stroke="#161616" stroke-width="1.7" stroke-linecap="butt" stroke-linejoin="miter"/>
<path d="M815.80,432.40 L815.80,426.40" fill="none" stroke="#222" stroke-width="0.9" stroke-linecap="butt" stroke-linejoin="miter"/>
<path d="M812.40,426.40 L819.20,426.40" fill="none" stroke="#222" stroke-width="1.1" stroke-linecap="butt" stroke-linejoin="miter"/>
<text x="815.8" y="444.3" font-size="6.8" text-anchor="middle" font-weight="normal" fill="#151515" stroke="#151515" stroke-width="0.1" letter-spacing="-0.3" >QA42</text>
<polygon points="832.10,440.90 840.30,440.90 836.20,448.70" fill="#f4f4f4" stroke="#222" stroke-width="0.9" stroke-linejoin="miter"/>
<polygon points="832.10,456.50 840.30,456.50 836.20,448.70" fill="#f4f4f4" stroke="#222" stroke-width="0.9" stroke-linejoin="miter"/>
<path d="M832.10,440.90 L840.30,456.50" fill="none" stroke="#161616" stroke-width="1.7" stroke-linecap="butt" stroke-linejoin="miter"/>
<path d="M836.20,448.70 L830.20,448.70" fill="none" stroke="#222" stroke-width="0.9" stroke-linecap="butt" stroke-linejoin="miter"/>
<path d="M830.20,445.30 L830.20,452.10" fill="none" stroke="#222" stroke-width="1.1" stroke-linecap="butt" stroke-linejoin="miter"/>
<text x="840.3" y="451.4" font-size="6.8" text-anchor="start" font-weight="normal" fill="#151515" stroke="#151515" stroke-width="0.1" letter-spacing="-0.3" >QA10</text>
<polygon points="832.10,367.40 840.30,367.40 836.20,375.20" fill="#f4f4f4" stroke="#222" stroke-width="0.9" stroke-linejoin="miter"/>
<polygon points="832.10,383.00 840.30,383.00 836.20,375.20" fill="#f4f4f4" stroke="#222" stroke-width="0.9" stroke-linejoin="miter"/>
<path d="M832.10,367.40 L840.30,383.00" fill="none" stroke="#161616" stroke-width="1.7" stroke-linecap="butt" stroke-linejoin="miter"/>
<path d="M836.20,375.20 L830.20,375.20" fill="none" stroke="#222" stroke-width="0.9" stroke-linecap="butt" stroke-linejoin="miter"/>
<path d="M830.20,371.80 L830.20,378.60" fill="none" stroke="#222" stroke-width="1.1" stroke-linecap="butt" stroke-linejoin="miter"/>
<text x="827.4" y="377.9" font-size="6.8" text-anchor="end" font-weight="normal" fill="#151515" stroke="#151515" stroke-width="0.1" letter-spacing="-0.3" >QA11</text>
<polygon points="935.30,241.70 943.50,241.70 939.40,249.50" fill="#f4f4f4" stroke="#222" stroke-width="0.9" stroke-linejoin="miter"/>
<polygon points="935.30,257.30 943.50,257.30 939.40,249.50" fill="#f4f4f4" stroke="#222" stroke-width="0.9" stroke-linejoin="miter"/>
<path d="M935.30,241.70 L943.50,257.30" fill="none" stroke="#161616" stroke-width="1.7" stroke-linecap="butt" stroke-linejoin="miter"/>
<path d="M939.40,249.50 L933.40,249.50" fill="none" stroke="#222" stroke-width="0.9" stroke-linecap="butt" stroke-linejoin="miter"/>
<path d="M933.40,246.10 L933.40,252.90" fill="none" stroke="#222" stroke-width="1.1" stroke-linecap="butt" stroke-linejoin="miter"/>
<text x="929.3" y="252.4" font-size="6.8" text-anchor="end" font-weight="normal" fill="#151515" stroke="#151515" stroke-width="0.1" letter-spacing="-0.3" >QA43</text>
<polygon points="948.50,258.10 948.50,266.30 956.00,262.20" fill="#f4f4f4" stroke="#222" stroke-width="0.9" stroke-linejoin="miter"/>
<polygon points="963.50,258.10 963.50,266.30 956.00,262.20" fill="#161616" stroke="#161616" stroke-width="0.6"/>
<path d="M956.00,262.20 L956.00,256.20" fill="none" stroke="#222" stroke-width="0.9" stroke-linecap="butt" stroke-linejoin="miter"/>
<path d="M952.60,256.20 L959.40,256.20" fill="none" stroke="#222" stroke-width="1.1" stroke-linecap="butt" stroke-linejoin="miter"/>
<text x="956" y="273.3" font-size="6.8" text-anchor="middle" font-weight="normal" fill="#151515" stroke="#151515" stroke-width="0.1" letter-spacing="-0.3" >QA29</text>
<path d="M975.2,259.3 L964.3,259.3 L964.3,265.4 L973,265.4" fill="none" stroke="#222" stroke-width="0.9"/>
<path d="M977.60,253.00 L961.00,290.60" fill="none" stroke="#222" stroke-width="0.8" stroke-linecap="butt" stroke-linejoin="miter"/>
<path d="M979.00,261.30 L984.50,261.30" fill="none" stroke="#444" stroke-width="0.6" stroke-linecap="butt" stroke-linejoin="miter"/>
<path d="M979.00,262.70 L984.50,262.70" fill="none" stroke="#444" stroke-width="0.6" stroke-linecap="butt" stroke-linejoin="miter"/>
<path d="M981.5,259.4 L978.6,262 L981.5,264.6" fill="none" stroke="#444" stroke-width="0.7"/>
<text x="924" y="554" font-size="8" text-anchor="start" font-weight="bold" fill="#111" >Key</text>
<path d="M868.00,571.70 L905.00,571.70" fill="none" stroke="#41ac48" stroke-width="1.8" stroke-linecap="butt" stroke-linejoin="miter"/>
<text x="924" y="574.6" font-size="6.8" text-anchor="start" font-weight="normal" fill="#151515" stroke="#151515" stroke-width="0.1" >Sea Water</text>
<path d="M868.00,588.60 L905.00,588.60" fill="none" stroke="#7fc8ef" stroke-width="1.8" stroke-linecap="butt" stroke-linejoin="miter"/>
<text x="924" y="591.5" font-size="6.8" text-anchor="start" font-weight="normal" fill="#151515" stroke="#151515" stroke-width="0.1" >LT Cooling Water</text>
<path d="M868.00,604.40 L905.00,604.40" fill="none" stroke="#111" stroke-width="1.8" stroke-linecap="butt" stroke-linejoin="miter"/>
<text x="924" y="607.3" font-size="6.8" text-anchor="start" font-weight="normal" fill="#151515" stroke="#151515" stroke-width="0.1" >Bilges</text>
<path d="M868.00,618.90 L905.00,618.90" fill="none" stroke="#808080" stroke-width="1.8" stroke-linecap="butt" stroke-linejoin="miter"/>
<text x="924" y="621.8" font-size="6.8" text-anchor="start" font-weight="normal" fill="#151515" stroke="#151515" stroke-width="0.1" >Air</text>
<path d="M868.00,635.50 L905.00,635.50" fill="none" stroke="#f5933d" stroke-width="1.8" stroke-linecap="butt" stroke-linejoin="miter"/>
<text x="924" y="638.4" font-size="6.8" text-anchor="start" font-weight="normal" fill="#151515" stroke="#151515" stroke-width="0.1" >Hydraulic Oil</text>
<path d="M868.00,650.50 L905.00,650.50" fill="none" stroke="#e8141c" stroke-width="1.8" stroke-linecap="butt" stroke-linejoin="miter"/>
<text x="924" y="653.4" font-size="6.8" text-anchor="start" font-weight="normal" fill="#151515" stroke="#151515" stroke-width="0.1" >Fire Hydrant Line</text>
</svg>
<svg id="wm" width="1040" height="734" viewBox="0 0 1040 734">
<defs>
<clipPath id="lower"><rect x="0" y="657.6" width="1040" height="80"/></clipPath>
<clipPath id="upper"><rect x="0" y="0" width="1040" height="657.6"/></clipPath>
</defs>
<polygon fill="#056ca1" points="75.90,582.60 69.17,615.13 52.72,586.27 56.38,619.29 31.82,596.92 45.49,627.19 15.22,613.52 37.59,638.08 4.57,634.42 33.43,650.87 0.90,657.60 33.43,664.33 4.57,680.78 37.59,677.12 15.22,701.68 45.49,688.01 31.82,718.28 56.38,695.91 52.72,728.93 69.17,700.07 75.90,732.60 82.63,700.07 99.08,728.93 95.42,695.91 119.98,718.28 106.31,688.01 136.58,701.68 114.21,677.12 147.23,680.78 118.37,664.33 150.90,657.60 118.37,650.87 147.23,634.42 114.21,638.08 136.58,613.52 106.31,627.19 119.98,596.92 95.42,619.29 99.08,586.27 82.63,615.13"/>
<path d="M34.7,657.6 A41.2,41.2 0 0 1 117.10000000000001,657.6 Z" fill="#fff"/>
<g clip-path="url(#upper)" fill="none" stroke="#056ca1" stroke-width="2.1" stroke-linejoin="round"><path transform="translate(0,0)" d="M194.50,616.30 C194.50,616.30 183.30,618.58 178.80,621.30 C174.30,624.02 169.70,628.85 167.50,632.60 C165.30,636.35 165.28,640.05 165.60,643.80 C165.92,647.55 167.20,651.97 169.40,655.10 C171.60,658.23 174.10,660.10 178.80,662.60 C183.50,665.10 192.80,668.00 197.60,670.10 C202.40,672.20 205.52,673.32 207.60,675.20 C209.68,677.08 210.10,679.32 210.10,681.40 C210.10,683.48 209.05,686.13 207.60,687.70 C206.15,689.27 203.70,690.17 201.40,690.80 C199.10,691.43 193.80,691.50 193.80,691.50 C193.80,691.50 193.80,699.20 193.80,699.20 C193.80,699.20 205.70,698.42 210.10,696.50 C214.50,694.58 217.68,691.67 220.20,687.70 C222.72,683.73 225.00,677.30 225.20,672.70 C225.40,668.10 223.50,663.65 221.40,660.10 C219.30,656.55 216.57,654.12 212.60,651.40 C208.63,648.68 201.77,646.10 197.60,643.80 C193.43,641.50 189.48,639.90 187.60,637.60 C185.72,635.30 185.90,632.10 186.30,630.00 C186.70,627.90 188.63,626.03 190.00,625.00 C191.37,623.97 194.50,623.80 194.50,623.80 C194.50,623.80 194.50,616.30 194.50,616.30Z"/>
<path transform="translate(0,0)" d="M197.60,616.30 C197.60,616.30 215.10,621.30 215.10,621.30 C215.10,621.30 221.40,616.60 221.40,616.60 C221.40,616.60 222.00,638.05 221.60,643.00 C221.20,647.95 220.02,645.88 219.00,646.30 C217.98,646.72 216.50,646.72 215.50,645.50 C214.50,644.28 214.25,641.42 213.00,639.00 C211.75,636.58 209.83,633.17 208.00,631.00 C206.17,628.83 203.73,627.20 202.00,626.00 C200.27,624.80 197.60,623.80 197.60,623.80 C197.60,623.80 197.60,616.30 197.60,616.30Z"/>
<path transform="translate(0,0)" d="M191.30,690.20 C191.30,690.20 191.30,699.20 191.30,699.20 C191.30,699.20 187.30,699.23 185.00,698.50 C182.70,697.77 177.50,694.80 177.50,694.80 C177.50,694.80 172.83,697.80 171.00,698.00 C169.17,698.20 167.40,697.67 166.50,696.00 C165.60,694.33 165.75,692.00 165.60,688.00 C165.45,684.00 165.28,675.42 165.60,672.00 C165.92,668.58 166.60,668.33 167.50,667.50 C168.40,666.67 169.92,666.58 171.00,667.00 C172.08,667.42 172.83,668.17 174.00,670.00 C175.17,671.83 176.33,675.33 178.00,678.00 C179.67,680.67 181.78,683.97 184.00,686.00 C186.22,688.03 191.30,690.20 191.30,690.20Z"/>
<path transform="translate(0,0)" d="M226.40,617.50 C226.40,617.50 259.60,617.50 259.60,617.50 C259.60,617.50 259.60,697.00 259.60,697.00 C259.60,697.00 229.00,697.00 229.00,697.00 C229.00,697.00 227.00,696.33 226.60,695.50 C226.20,694.67 226.20,692.95 226.60,692.00 C227.00,691.05 228.02,690.47 229.00,689.80 C229.98,689.13 231.70,688.97 232.50,688.00 C233.30,687.03 233.80,684.00 233.80,684.00 C233.80,684.00 233.80,630.00 233.80,630.00 C233.80,630.00 233.30,627.42 232.50,626.50 C231.70,625.58 229.98,625.17 229.00,624.50 C228.02,623.83 227.00,623.33 226.60,622.50 C226.20,621.67 226.63,620.33 226.60,619.50 C226.57,618.67 226.40,617.50 226.40,617.50Z"/>
<path transform="translate(0,0)" d="M262.00,617.50 C262.00,617.50 286.60,617.50 286.60,617.50 C286.60,617.50 286.78,637.15 286.60,641.50 C286.42,645.85 286.10,643.25 285.50,643.60 C284.90,643.95 283.75,644.37 283.00,643.60 C282.25,642.83 282.00,640.93 281.00,639.00 C280.00,637.07 278.83,634.00 277.00,632.00 C275.17,630.00 272.50,628.10 270.00,627.00 C267.50,625.90 262.00,625.40 262.00,625.40 C262.00,625.40 262.00,617.50 262.00,617.50Z"/>
<path transform="translate(0,0)" d="M262.10,653.20 C262.10,653.20 266.23,652.35 267.80,651.20 C269.37,650.05 270.55,647.92 271.50,646.30 C272.45,644.68 272.83,642.47 273.50,641.50 C274.17,640.53 274.88,640.32 275.50,640.50 C276.12,640.68 277.20,642.60 277.20,642.60 C277.20,642.60 277.20,671.40 277.20,671.40 C277.20,671.40 276.28,672.72 275.50,672.90 C274.72,673.08 273.37,672.98 272.50,672.50 C271.63,672.02 271.08,671.43 270.30,670.00 C269.52,668.57 268.85,665.43 267.80,663.90 C266.75,662.37 264.95,661.43 264.00,660.80 C263.05,660.17 262.10,660.10 262.10,660.10 C262.10,660.10 262.10,653.20 262.10,653.20Z"/>
<path transform="translate(0,0)" d="M262.10,697.00 C262.10,697.00 288.80,697.00 288.80,697.00 C288.80,697.00 289.02,678.67 288.80,674.50 C288.58,670.33 288.22,672.42 287.50,672.00 C286.78,671.58 285.33,671.33 284.50,672.00 C283.67,672.67 283.42,674.00 282.50,676.00 C281.58,678.00 280.75,681.87 279.00,684.00 C277.25,686.13 274.82,687.75 272.00,688.80 C269.18,689.85 262.10,690.30 262.10,690.30 C262.10,690.30 262.10,697.00 262.10,697.00Z"/>
<path transform="translate(0,0)" d="M308.70,632.40 C308.70,632.40 312.50,644.50 312.50,644.50 C312.50,644.50 309.63,651.33 307.90,657.80 C306.17,664.27 302.87,678.28 302.10,683.30 C301.33,688.32 302.23,686.70 303.30,687.90 C304.37,689.10 307.45,689.57 308.50,690.50 C309.55,691.43 309.77,692.42 309.60,693.50 C309.43,694.58 307.50,697.00 307.50,697.00 C307.50,697.00 285.00,697.00 285.00,697.00 C285.00,697.00 283.43,694.20 283.60,693.00 C283.77,691.80 284.85,690.88 286.00,689.80 C287.15,688.72 289.17,687.88 290.50,686.50 C291.83,685.12 291.87,686.28 294.00,681.50 C296.13,676.72 300.85,665.98 303.30,657.80 C305.75,649.62 308.70,632.40 308.70,632.40Z"/>
<path transform="translate(0,0)" d="M311.60,618.00 C311.60,618.00 336.50,618.00 336.50,618.00 C336.50,618.00 352.60,688.50 352.60,688.50 C352.60,688.50 355.60,689.17 356.50,690.00 C357.40,690.83 358.00,692.37 358.00,693.50 C358.00,694.63 356.50,696.80 356.50,696.80 C356.50,696.80 322.00,696.80 322.00,696.80 C322.00,696.80 320.22,694.63 320.30,693.50 C320.38,692.37 321.97,690.68 322.50,690.00 C323.03,689.32 323.50,689.40 323.50,689.40 C323.50,689.40 321.60,678.00 321.60,678.00 C321.60,678.00 306.20,678.00 306.20,678.00 C306.20,678.00 306.20,669.20 306.20,669.20 C306.20,669.20 320.20,669.20 320.20,669.20 C320.20,669.20 312.90,624.80 312.90,624.80 C312.90,624.80 311.42,622.13 311.20,621.00 C310.98,619.87 311.60,618.00 311.60,618.00Z"/>
<path transform="translate(0,0)" d="M372.80,618.00 C372.80,618.00 399.70,618.00 399.70,618.00 C399.70,618.00 399.70,688.50 399.70,688.50 C399.70,688.50 402.78,688.83 404.00,689.50 C405.22,690.17 406.67,691.28 407.00,692.50 C407.33,693.72 406.00,696.80 406.00,696.80 C406.00,696.80 366.50,696.80 366.50,696.80 C366.50,696.80 365.17,693.72 365.50,692.50 C365.83,691.28 367.28,690.17 368.50,689.50 C369.72,688.83 372.80,688.50 372.80,688.50 C372.80,688.50 372.80,618.00 372.80,618.00Z"/>
<path transform="translate(0,0)" d="M353.30,618.00 C353.30,618.00 369.50,618.00 369.50,618.00 C369.50,618.00 369.50,624.00 369.50,624.00 C369.50,624.00 367.17,626.00 366.00,628.00 C364.83,630.00 363.37,633.50 362.50,636.00 C361.63,638.50 361.47,641.28 360.80,643.00 C360.13,644.72 359.47,645.88 358.50,646.30 C357.53,646.72 355.87,646.22 355.00,645.50 C354.13,644.78 353.30,642.00 353.30,642.00 C353.30,642.00 353.30,618.00 353.30,618.00Z"/>
<path transform="translate(0,0)" d="M419.20,618.00 C419.20,618.00 403.00,618.00 403.00,618.00 C403.00,618.00 403.00,624.00 403.00,624.00 C403.00,624.00 405.33,626.00 406.50,628.00 C407.67,630.00 409.13,633.50 410.00,636.00 C410.87,638.50 411.03,641.28 411.70,643.00 C412.37,644.72 413.03,645.88 414.00,646.30 C414.97,646.72 416.63,646.22 417.50,645.50 C418.37,644.78 419.20,642.00 419.20,642.00 C419.20,642.00 419.20,618.00 419.20,618.00Z"/>
<path transform="translate(0,0)" d="M418.80,618.40 C418.80,618.40 452.00,618.40 452.00,618.40 C452.00,618.40 452.00,688.00 452.00,688.00 C452.00,688.00 454.73,688.67 456.00,689.50 C457.27,690.33 459.18,691.72 459.60,693.00 C460.02,694.28 458.50,697.20 458.50,697.20 C458.50,697.20 420.00,697.20 420.00,697.20 C420.00,697.20 418.75,694.78 419.00,693.50 C419.25,692.22 420.18,690.42 421.50,689.50 C422.82,688.58 426.90,688.00 426.90,688.00 C426.90,688.00 426.90,628.00 426.90,628.00 C426.90,628.00 424.32,625.42 423.00,624.50 C421.68,623.58 419.70,623.52 419.00,622.50 C418.30,621.48 418.80,618.40 418.80,618.40Z"/>
<path transform="translate(0,0)" d="M455.40,618.40 C455.40,618.40 471.52,619.12 476.40,620.50 C481.28,621.88 482.73,623.80 484.70,626.70 C486.67,629.60 488.20,634.18 488.20,637.90 C488.20,641.62 486.67,645.87 484.70,649.00 C482.73,652.13 478.25,655.07 476.40,656.70 C474.55,658.33 472.68,657.75 473.60,658.80 C474.52,659.85 479.58,660.90 481.90,663.00 C484.22,665.10 486.45,667.82 487.50,671.40 C488.55,674.98 487.70,682.82 488.20,684.50 C488.70,686.18 489.53,681.92 490.50,681.50 C491.47,681.08 492.87,680.90 494.00,682.00 C495.13,683.10 497.45,685.45 497.30,688.10 C497.15,690.75 497.52,696.38 493.10,697.90 C488.68,699.42 475.80,698.83 470.80,697.20 C465.80,695.57 464.73,692.17 463.10,688.10 C461.47,684.03 462.05,676.98 461.00,672.80 C459.95,668.62 457.73,665.45 456.80,663.00 C455.87,660.55 455.40,658.10 455.40,658.10 C455.40,658.10 455.40,656.00 455.40,656.00 C455.40,656.00 461.12,653.42 462.40,650.40 C463.68,647.38 463.10,641.38 463.10,637.90 C463.10,634.42 463.68,631.60 462.40,629.50 C461.12,627.40 455.40,625.30 455.40,625.30 C455.40,625.30 455.40,618.40 455.40,618.40Z"/>
<path transform="translate(206.4,0)" d="M308.70,632.40 C308.70,632.40 312.50,644.50 312.50,644.50 C312.50,644.50 309.63,651.33 307.90,657.80 C306.17,664.27 302.87,678.28 302.10,683.30 C301.33,688.32 302.23,686.70 303.30,687.90 C304.37,689.10 307.45,689.57 308.50,690.50 C309.55,691.43 309.77,692.42 309.60,693.50 C309.43,694.58 307.50,697.00 307.50,697.00 C307.50,697.00 285.00,697.00 285.00,697.00 C285.00,697.00 283.43,694.20 283.60,693.00 C283.77,691.80 284.85,690.88 286.00,689.80 C287.15,688.72 289.17,687.88 290.50,686.50 C291.83,685.12 291.87,686.28 294.00,681.50 C296.13,676.72 300.85,665.98 303.30,657.80 C305.75,649.62 308.70,632.40 308.70,632.40Z"/>
<path transform="translate(206.4,0)" d="M311.60,618.00 C311.60,618.00 336.50,618.00 336.50,618.00 C336.50,618.00 352.60,688.50 352.60,688.50 C352.60,688.50 355.60,689.17 356.50,690.00 C357.40,690.83 358.00,692.37 358.00,693.50 C358.00,694.63 356.50,696.80 356.50,696.80 C356.50,696.80 322.00,696.80 322.00,696.80 C322.00,696.80 320.22,694.63 320.30,693.50 C320.38,692.37 321.97,690.68 322.50,690.00 C323.03,689.32 323.50,689.40 323.50,689.40 C323.50,689.40 321.60,678.00 321.60,678.00 C321.60,678.00 306.20,678.00 306.20,678.00 C306.20,678.00 306.20,669.20 306.20,669.20 C306.20,669.20 320.20,669.20 320.20,669.20 C320.20,669.20 312.90,624.80 312.90,624.80 C312.90,624.80 311.42,622.13 311.20,621.00 C310.98,619.87 311.60,618.00 311.60,618.00Z"/>
<path transform="translate(0,0)" d="M594.60,615.60 C594.60,615.60 586.27,616.60 582.00,619.00 C577.73,621.40 572.42,625.67 569.00,630.00 C565.58,634.33 563.05,640.33 561.50,645.00 C559.95,649.67 559.62,653.00 559.70,658.00 C559.78,663.00 560.28,669.67 562.00,675.00 C563.72,680.33 566.67,686.25 570.00,690.00 C573.33,693.75 577.90,695.92 582.00,697.50 C586.10,699.08 594.60,699.50 594.60,699.50 C594.60,699.50 594.60,692.00 594.60,692.00 C594.60,692.00 592.02,690.33 591.00,688.00 C589.98,685.67 589.08,683.00 588.50,678.00 C587.92,673.00 587.50,665.00 587.50,658.00 C587.50,651.00 587.92,641.33 588.50,636.00 C589.08,630.67 589.98,628.25 591.00,626.00 C592.02,623.75 594.60,622.50 594.60,622.50 C594.60,622.50 594.60,615.60 594.60,615.60Z"/>
<path transform="translate(0,0)" d="M597.40,616.00 C597.40,616.00 604.73,616.75 608.00,618.00 C611.27,619.25 614.75,621.50 617.00,623.50 C619.25,625.50 620.58,627.25 621.50,630.00 C622.42,632.75 622.50,637.17 622.50,640.00 C622.50,642.83 622.08,645.67 621.50,647.00 C620.92,648.33 619.83,648.50 619.00,648.00 C618.17,647.50 617.67,646.33 616.50,644.00 C615.33,641.67 613.92,637.00 612.00,634.00 C610.08,631.00 607.43,627.83 605.00,626.00 C602.57,624.17 597.40,623.00 597.40,623.00 C597.40,623.00 597.40,616.00 597.40,616.00Z"/>
<path transform="translate(0,0)" d="M597.40,699.50 C597.40,699.50 604.73,699.17 608.00,698.00 C611.27,696.83 614.67,694.83 617.00,692.50 C619.33,690.17 621.08,686.75 622.00,684.00 C622.92,681.25 622.83,677.78 622.50,676.00 C622.17,674.22 620.92,673.47 620.00,673.30 C619.08,673.13 618.17,673.55 617.00,675.00 C615.83,676.45 614.83,679.67 613.00,682.00 C611.17,684.33 608.60,687.33 606.00,689.00 C603.40,690.67 597.40,692.00 597.40,692.00 C597.40,692.00 597.40,699.50 597.40,699.50Z"/>
<path transform="translate(0,0)" d="M625.40,620.00 C625.67,619.32 626.07,617.83 627.00,617.40 C627.93,616.97 631.00,617.40 631.00,617.40 C631.00,617.40 659.00,617.40 659.00,617.40 C659.00,617.40 661.82,617.90 662.50,618.50 C663.18,619.10 663.27,620.17 663.10,621.00 C662.93,621.83 662.28,622.75 661.50,623.50 C660.72,624.25 658.40,625.50 658.40,625.50 C658.40,625.50 658.40,688.50 658.40,688.50 C658.40,688.50 660.72,689.25 661.50,690.00 C662.28,690.75 663.02,691.97 663.10,693.00 C663.18,694.03 662.68,695.52 662.00,696.20 C661.32,696.88 659.00,697.10 659.00,697.10 C659.00,697.10 629.00,697.10 629.00,697.10 C629.00,697.10 626.67,696.88 626.00,696.20 C625.33,695.52 624.92,694.03 625.00,693.00 C625.08,691.97 625.43,690.75 626.50,690.00 C627.57,689.25 631.40,688.50 631.40,688.50 C631.40,688.50 631.40,625.50 631.40,625.50 C631.40,625.50 628.50,624.67 627.50,624.00 C626.50,623.33 625.75,622.17 625.40,621.50 C625.05,620.83 625.13,620.68 625.40,620.00Z"/>
<path transform="translate(0,0)" d="M670.30,618.00 C670.72,617.23 673.00,617.40 673.00,617.40 C673.00,617.40 697.00,617.40 697.00,617.40 C697.00,617.40 699.80,618.23 700.30,619.00 C700.80,619.77 700.63,621.08 700.00,622.00 C699.37,622.92 697.83,623.93 696.50,624.50 C695.17,625.07 692.00,625.40 692.00,625.40 C692.00,625.40 672.70,644.40 672.70,644.40 C672.70,644.40 696.70,686.00 696.70,686.00 C696.70,686.00 698.95,687.33 700.00,688.50 C701.05,689.67 702.83,691.57 703.00,693.00 C703.17,694.43 701.00,697.10 701.00,697.10 C701.00,697.10 666.00,697.10 666.00,697.10 C666.00,697.10 664.08,695.18 664.00,694.00 C663.92,692.82 664.65,690.88 665.50,690.00 C666.35,689.12 669.10,688.70 669.10,688.70 C669.10,688.70 660.20,658.70 660.20,658.70 C660.20,658.70 679.30,625.40 679.30,625.40 C679.30,625.40 675.47,625.07 674.00,624.50 C672.53,623.93 671.12,623.08 670.50,622.00 C669.88,620.92 669.88,618.77 670.30,618.00Z"/>
<path transform="translate(479,0)" d="M226.40,617.50 C226.40,617.50 259.60,617.50 259.60,617.50 C259.60,617.50 259.60,697.00 259.60,697.00 C259.60,697.00 229.00,697.00 229.00,697.00 C229.00,697.00 227.00,696.33 226.60,695.50 C226.20,694.67 226.20,692.95 226.60,692.00 C227.00,691.05 228.02,690.47 229.00,689.80 C229.98,689.13 231.70,688.97 232.50,688.00 C233.30,687.03 233.80,684.00 233.80,684.00 C233.80,684.00 233.80,630.00 233.80,630.00 C233.80,630.00 233.30,627.42 232.50,626.50 C231.70,625.58 229.98,625.17 229.00,624.50 C228.02,623.83 227.00,623.33 226.60,622.50 C226.20,621.67 226.63,620.33 226.60,619.50 C226.57,618.67 226.40,617.50 226.40,617.50Z"/>
<path transform="translate(479,0)" d="M262.00,617.50 C262.00,617.50 286.60,617.50 286.60,617.50 C286.60,617.50 286.78,637.15 286.60,641.50 C286.42,645.85 286.10,643.25 285.50,643.60 C284.90,643.95 283.75,644.37 283.00,643.60 C282.25,642.83 282.00,640.93 281.00,639.00 C280.00,637.07 278.83,634.00 277.00,632.00 C275.17,630.00 272.50,628.10 270.00,627.00 C267.50,625.90 262.00,625.40 262.00,625.40 C262.00,625.40 262.00,617.50 262.00,617.50Z"/>
<path transform="translate(479,0)" d="M262.10,653.20 C262.10,653.20 266.23,652.35 267.80,651.20 C269.37,650.05 270.55,647.92 271.50,646.30 C272.45,644.68 272.83,642.47 273.50,641.50 C274.17,640.53 274.88,640.32 275.50,640.50 C276.12,640.68 277.20,642.60 277.20,642.60 C277.20,642.60 277.20,671.40 277.20,671.40 C277.20,671.40 276.28,672.72 275.50,672.90 C274.72,673.08 273.37,672.98 272.50,672.50 C271.63,672.02 271.08,671.43 270.30,670.00 C269.52,668.57 268.85,665.43 267.80,663.90 C266.75,662.37 264.95,661.43 264.00,660.80 C263.05,660.17 262.10,660.10 262.10,660.10 C262.10,660.10 262.10,653.20 262.10,653.20Z"/>
<path transform="translate(479,0)" d="M262.10,697.00 C262.10,697.00 288.80,697.00 288.80,697.00 C288.80,697.00 289.02,678.67 288.80,674.50 C288.58,670.33 288.22,672.42 287.50,672.00 C286.78,671.58 285.33,671.33 284.50,672.00 C283.67,672.67 283.42,674.00 282.50,676.00 C281.58,678.00 280.75,681.87 279.00,684.00 C277.25,686.13 274.82,687.75 272.00,688.80 C269.18,689.85 262.10,690.30 262.10,690.30 C262.10,690.30 262.10,697.00 262.10,697.00Z"/>
<path transform="translate(347,0)" d="M418.80,618.40 C418.80,618.40 452.00,618.40 452.00,618.40 C452.00,618.40 452.00,688.00 452.00,688.00 C452.00,688.00 454.73,688.67 456.00,689.50 C457.27,690.33 459.18,691.72 459.60,693.00 C460.02,694.28 458.50,697.20 458.50,697.20 C458.50,697.20 420.00,697.20 420.00,697.20 C420.00,697.20 418.75,694.78 419.00,693.50 C419.25,692.22 420.18,690.42 421.50,689.50 C422.82,688.58 426.90,688.00 426.90,688.00 C426.90,688.00 426.90,628.00 426.90,628.00 C426.90,628.00 424.32,625.42 423.00,624.50 C421.68,623.58 419.70,623.52 419.00,622.50 C418.30,621.48 418.80,618.40 418.80,618.40Z"/>
<path transform="translate(347,0)" d="M455.40,618.40 C455.40,618.40 471.52,619.12 476.40,620.50 C481.28,621.88 482.73,623.80 484.70,626.70 C486.67,629.60 488.20,634.18 488.20,637.90 C488.20,641.62 486.67,645.87 484.70,649.00 C482.73,652.13 478.25,655.07 476.40,656.70 C474.55,658.33 472.68,657.75 473.60,658.80 C474.52,659.85 479.58,660.90 481.90,663.00 C484.22,665.10 486.45,667.82 487.50,671.40 C488.55,674.98 487.70,682.82 488.20,684.50 C488.70,686.18 489.53,681.92 490.50,681.50 C491.47,681.08 492.87,680.90 494.00,682.00 C495.13,683.10 497.45,685.45 497.30,688.10 C497.15,690.75 497.52,696.38 493.10,697.90 C488.68,699.42 475.80,698.83 470.80,697.20 C465.80,695.57 464.73,692.17 463.10,688.10 C461.47,684.03 462.05,676.98 461.00,672.80 C459.95,668.62 457.73,665.45 456.80,663.00 C455.87,660.55 455.40,658.10 455.40,658.10 C455.40,658.10 455.40,656.00 455.40,656.00 C455.40,656.00 461.12,653.42 462.40,650.40 C463.68,647.38 463.10,641.38 463.10,637.90 C463.10,634.42 463.68,631.60 462.40,629.50 C461.12,627.40 455.40,625.30 455.40,625.30 C455.40,625.30 455.40,618.40 455.40,618.40Z"/>
<path transform="translate(454.5,0)" d="M418.80,618.40 C418.80,618.40 452.00,618.40 452.00,618.40 C452.00,618.40 452.00,688.00 452.00,688.00 C452.00,688.00 454.73,688.67 456.00,689.50 C457.27,690.33 459.18,691.72 459.60,693.00 C460.02,694.28 458.50,697.20 458.50,697.20 C458.50,697.20 420.00,697.20 420.00,697.20 C420.00,697.20 418.75,694.78 419.00,693.50 C419.25,692.22 420.18,690.42 421.50,689.50 C422.82,688.58 426.90,688.00 426.90,688.00 C426.90,688.00 426.90,628.00 426.90,628.00 C426.90,628.00 424.32,625.42 423.00,624.50 C421.68,623.58 419.70,623.52 419.00,622.50 C418.30,621.48 418.80,618.40 418.80,618.40Z"/>
<path transform="translate(454.5,0)" d="M455.40,618.40 C455.40,618.40 471.52,619.12 476.40,620.50 C481.28,621.88 482.73,623.80 484.70,626.70 C486.67,629.60 488.20,634.18 488.20,637.90 C488.20,641.62 486.67,645.87 484.70,649.00 C482.73,652.13 478.25,655.07 476.40,656.70 C474.55,658.33 472.68,657.75 473.60,658.80 C474.52,659.85 479.58,660.90 481.90,663.00 C484.22,665.10 486.45,667.82 487.50,671.40 C488.55,674.98 487.70,682.82 488.20,684.50 C488.70,686.18 489.53,681.92 490.50,681.50 C491.47,681.08 492.87,680.90 494.00,682.00 C495.13,683.10 497.45,685.45 497.30,688.10 C497.15,690.75 497.52,696.38 493.10,697.90 C488.68,699.42 475.80,698.83 470.80,697.20 C465.80,695.57 464.73,692.17 463.10,688.10 C461.47,684.03 462.05,676.98 461.00,672.80 C459.95,668.62 457.73,665.45 456.80,663.00 C455.87,660.55 455.40,658.10 455.40,658.10 C455.40,658.10 455.40,656.00 455.40,656.00 C455.40,656.00 461.12,653.42 462.40,650.40 C463.68,647.38 463.10,641.38 463.10,637.90 C463.10,634.42 463.68,631.60 462.40,629.50 C461.12,627.40 455.40,625.30 455.40,625.30 C455.40,625.30 455.40,618.40 455.40,618.40Z"/>
<path transform="translate(0,0)" d="M950.00,620.50 C950.00,619.32 950.83,617.92 952.00,617.40 C953.17,616.88 957.00,617.40 957.00,617.40 C957.00,617.40 985.00,617.40 985.00,617.40 C985.00,617.40 987.80,617.82 988.50,618.50 C989.20,619.18 989.45,620.50 989.20,621.50 C988.95,622.50 988.08,623.70 987.00,624.50 C985.92,625.30 982.70,626.30 982.70,626.30 C982.70,626.30 982.70,679.00 982.70,679.00 C982.70,679.00 983.28,683.00 984.00,684.50 C984.72,686.00 985.85,687.17 987.00,688.00 C988.15,688.83 990.90,689.50 990.90,689.50 C990.90,689.50 990.90,699.10 990.90,699.10 C990.90,699.10 982.15,699.02 978.00,698.00 C973.85,696.98 969.25,695.17 966.00,693.00 C962.75,690.83 960.22,688.00 958.50,685.00 C956.78,682.00 955.70,675.00 955.70,675.00 C955.70,675.00 955.70,626.30 955.70,626.30 C955.70,626.30 952.95,625.47 952.00,624.50 C951.05,623.53 950.00,621.68 950.00,620.50Z"/>
<path transform="translate(0,0)" d="M997.40,620.50 C997.65,619.65 998.57,617.92 999.50,617.40 C1000.43,616.88 1003.00,617.40 1003.00,617.40 C1003.00,617.40 1019.00,617.40 1019.00,617.40 C1019.00,617.40 1022.25,617.82 1023.00,618.50 C1023.75,619.18 1023.83,620.50 1023.50,621.50 C1023.17,622.50 1022.08,623.70 1021.00,624.50 C1019.92,625.30 1017.00,626.30 1017.00,626.30 C1017.00,626.30 1017.00,675.00 1017.00,675.00 C1017.00,675.00 1016.00,682.83 1014.50,686.00 C1013.00,689.17 1010.42,691.95 1008.00,694.00 C1005.58,696.05 1002.45,697.45 1000.00,698.30 C997.55,699.15 993.30,699.10 993.30,699.10 C993.30,699.10 993.30,689.50 993.30,689.50 C993.30,689.50 996.97,689.08 999.00,688.00 C1001.03,686.92 1003.87,685.17 1005.50,683.00 C1007.13,680.83 1008.80,675.00 1008.80,675.00 C1008.80,675.00 1008.80,626.30 1008.80,626.30 C1008.80,626.30 1003.80,625.13 1002.00,624.50 C1000.20,623.87 998.77,623.17 998.00,622.50 C997.23,621.83 997.15,621.35 997.40,620.50Z"/>
<circle cx="858.2" cy="686.7" r="12.2"/></g>
<g clip-path="url(#lower)" fill="#056ca1" stroke="#056ca1" stroke-width="0.8" stroke-linejoin="round"><path transform="translate(0,0)" d="M194.50,616.30 C194.50,616.30 183.30,618.58 178.80,621.30 C174.30,624.02 169.70,628.85 167.50,632.60 C165.30,636.35 165.28,640.05 165.60,643.80 C165.92,647.55 167.20,651.97 169.40,655.10 C171.60,658.23 174.10,660.10 178.80,662.60 C183.50,665.10 192.80,668.00 197.60,670.10 C202.40,672.20 205.52,673.32 207.60,675.20 C209.68,677.08 210.10,679.32 210.10,681.40 C210.10,683.48 209.05,686.13 207.60,687.70 C206.15,689.27 203.70,690.17 201.40,690.80 C199.10,691.43 193.80,691.50 193.80,691.50 C193.80,691.50 193.80,699.20 193.80,699.20 C193.80,699.20 205.70,698.42 210.10,696.50 C214.50,694.58 217.68,691.67 220.20,687.70 C222.72,683.73 225.00,677.30 225.20,672.70 C225.40,668.10 223.50,663.65 221.40,660.10 C219.30,656.55 216.57,654.12 212.60,651.40 C208.63,648.68 201.77,646.10 197.60,643.80 C193.43,641.50 189.48,639.90 187.60,637.60 C185.72,635.30 185.90,632.10 186.30,630.00 C186.70,627.90 188.63,626.03 190.00,625.00 C191.37,623.97 194.50,623.80 194.50,623.80 C194.50,623.80 194.50,616.30 194.50,616.30Z"/>
<path transform="translate(0,0)" d="M197.60,616.30 C197.60,616.30 215.10,621.30 215.10,621.30 C215.10,621.30 221.40,616.60 221.40,616.60 C221.40,616.60 222.00,638.05 221.60,643.00 C221.20,647.95 220.02,645.88 219.00,646.30 C217.98,646.72 216.50,646.72 215.50,645.50 C214.50,644.28 214.25,641.42 213.00,639.00 C211.75,636.58 209.83,633.17 208.00,631.00 C206.17,628.83 203.73,627.20 202.00,626.00 C200.27,624.80 197.60,623.80 197.60,623.80 C197.60,623.80 197.60,616.30 197.60,616.30Z"/>
<path transform="translate(0,0)" d="M191.30,690.20 C191.30,690.20 191.30,699.20 191.30,699.20 C191.30,699.20 187.30,699.23 185.00,698.50 C182.70,697.77 177.50,694.80 177.50,694.80 C177.50,694.80 172.83,697.80 171.00,698.00 C169.17,698.20 167.40,697.67 166.50,696.00 C165.60,694.33 165.75,692.00 165.60,688.00 C165.45,684.00 165.28,675.42 165.60,672.00 C165.92,668.58 166.60,668.33 167.50,667.50 C168.40,666.67 169.92,666.58 171.00,667.00 C172.08,667.42 172.83,668.17 174.00,670.00 C175.17,671.83 176.33,675.33 178.00,678.00 C179.67,680.67 181.78,683.97 184.00,686.00 C186.22,688.03 191.30,690.20 191.30,690.20Z"/>
<path transform="translate(0,0)" d="M226.40,617.50 C226.40,617.50 259.60,617.50 259.60,617.50 C259.60,617.50 259.60,697.00 259.60,697.00 C259.60,697.00 229.00,697.00 229.00,697.00 C229.00,697.00 227.00,696.33 226.60,695.50 C226.20,694.67 226.20,692.95 226.60,692.00 C227.00,691.05 228.02,690.47 229.00,689.80 C229.98,689.13 231.70,688.97 232.50,688.00 C233.30,687.03 233.80,684.00 233.80,684.00 C233.80,684.00 233.80,630.00 233.80,630.00 C233.80,630.00 233.30,627.42 232.50,626.50 C231.70,625.58 229.98,625.17 229.00,624.50 C228.02,623.83 227.00,623.33 226.60,622.50 C226.20,621.67 226.63,620.33 226.60,619.50 C226.57,618.67 226.40,617.50 226.40,617.50Z"/>
<path transform="translate(0,0)" d="M262.00,617.50 C262.00,617.50 286.60,617.50 286.60,617.50 C286.60,617.50 286.78,637.15 286.60,641.50 C286.42,645.85 286.10,643.25 285.50,643.60 C284.90,643.95 283.75,644.37 283.00,643.60 C282.25,642.83 282.00,640.93 281.00,639.00 C280.00,637.07 278.83,634.00 277.00,632.00 C275.17,630.00 272.50,628.10 270.00,627.00 C267.50,625.90 262.00,625.40 262.00,625.40 C262.00,625.40 262.00,617.50 262.00,617.50Z"/>
<path transform="translate(0,0)" d="M262.10,653.20 C262.10,653.20 266.23,652.35 267.80,651.20 C269.37,650.05 270.55,647.92 271.50,646.30 C272.45,644.68 272.83,642.47 273.50,641.50 C274.17,640.53 274.88,640.32 275.50,640.50 C276.12,640.68 277.20,642.60 277.20,642.60 C277.20,642.60 277.20,671.40 277.20,671.40 C277.20,671.40 276.28,672.72 275.50,672.90 C274.72,673.08 273.37,672.98 272.50,672.50 C271.63,672.02 271.08,671.43 270.30,670.00 C269.52,668.57 268.85,665.43 267.80,663.90 C266.75,662.37 264.95,661.43 264.00,660.80 C263.05,660.17 262.10,660.10 262.10,660.10 C262.10,660.10 262.10,653.20 262.10,653.20Z"/>
<path transform="translate(0,0)" d="M262.10,697.00 C262.10,697.00 288.80,697.00 288.80,697.00 C288.80,697.00 289.02,678.67 288.80,674.50 C288.58,670.33 288.22,672.42 287.50,672.00 C286.78,671.58 285.33,671.33 284.50,672.00 C283.67,672.67 283.42,674.00 282.50,676.00 C281.58,678.00 280.75,681.87 279.00,684.00 C277.25,686.13 274.82,687.75 272.00,688.80 C269.18,689.85 262.10,690.30 262.10,690.30 C262.10,690.30 262.10,697.00 262.10,697.00Z"/>
<path transform="translate(0,0)" d="M308.70,632.40 C308.70,632.40 312.50,644.50 312.50,644.50 C312.50,644.50 309.63,651.33 307.90,657.80 C306.17,664.27 302.87,678.28 302.10,683.30 C301.33,688.32 302.23,686.70 303.30,687.90 C304.37,689.10 307.45,689.57 308.50,690.50 C309.55,691.43 309.77,692.42 309.60,693.50 C309.43,694.58 307.50,697.00 307.50,697.00 C307.50,697.00 285.00,697.00 285.00,697.00 C285.00,697.00 283.43,694.20 283.60,693.00 C283.77,691.80 284.85,690.88 286.00,689.80 C287.15,688.72 289.17,687.88 290.50,686.50 C291.83,685.12 291.87,686.28 294.00,681.50 C296.13,676.72 300.85,665.98 303.30,657.80 C305.75,649.62 308.70,632.40 308.70,632.40Z"/>
<path transform="translate(0,0)" d="M311.60,618.00 C311.60,618.00 336.50,618.00 336.50,618.00 C336.50,618.00 352.60,688.50 352.60,688.50 C352.60,688.50 355.60,689.17 356.50,690.00 C357.40,690.83 358.00,692.37 358.00,693.50 C358.00,694.63 356.50,696.80 356.50,696.80 C356.50,696.80 322.00,696.80 322.00,696.80 C322.00,696.80 320.22,694.63 320.30,693.50 C320.38,692.37 321.97,690.68 322.50,690.00 C323.03,689.32 323.50,689.40 323.50,689.40 C323.50,689.40 321.60,678.00 321.60,678.00 C321.60,678.00 306.20,678.00 306.20,678.00 C306.20,678.00 306.20,669.20 306.20,669.20 C306.20,669.20 320.20,669.20 320.20,669.20 C320.20,669.20 312.90,624.80 312.90,624.80 C312.90,624.80 311.42,622.13 311.20,621.00 C310.98,619.87 311.60,618.00 311.60,618.00Z"/>
<path transform="translate(0,0)" d="M372.80,618.00 C372.80,618.00 399.70,618.00 399.70,618.00 C399.70,618.00 399.70,688.50 399.70,688.50 C399.70,688.50 402.78,688.83 404.00,689.50 C405.22,690.17 406.67,691.28 407.00,692.50 C407.33,693.72 406.00,696.80 406.00,696.80 C406.00,696.80 366.50,696.80 366.50,696.80 C366.50,696.80 365.17,693.72 365.50,692.50 C365.83,691.28 367.28,690.17 368.50,689.50 C369.72,688.83 372.80,688.50 372.80,688.50 C372.80,688.50 372.80,618.00 372.80,618.00Z"/>
<path transform="translate(0,0)" d="M353.30,618.00 C353.30,618.00 369.50,618.00 369.50,618.00 C369.50,618.00 369.50,624.00 369.50,624.00 C369.50,624.00 367.17,626.00 366.00,628.00 C364.83,630.00 363.37,633.50 362.50,636.00 C361.63,638.50 361.47,641.28 360.80,643.00 C360.13,644.72 359.47,645.88 358.50,646.30 C357.53,646.72 355.87,646.22 355.00,645.50 C354.13,644.78 353.30,642.00 353.30,642.00 C353.30,642.00 353.30,618.00 353.30,618.00Z"/>
<path transform="translate(0,0)" d="M419.20,618.00 C419.20,618.00 403.00,618.00 403.00,618.00 C403.00,618.00 403.00,624.00 403.00,624.00 C403.00,624.00 405.33,626.00 406.50,628.00 C407.67,630.00 409.13,633.50 410.00,636.00 C410.87,638.50 411.03,641.28 411.70,643.00 C412.37,644.72 413.03,645.88 414.00,646.30 C414.97,646.72 416.63,646.22 417.50,645.50 C418.37,644.78 419.20,642.00 419.20,642.00 C419.20,642.00 419.20,618.00 419.20,618.00Z"/>
<path transform="translate(0,0)" d="M418.80,618.40 C418.80,618.40 452.00,618.40 452.00,618.40 C452.00,618.40 452.00,688.00 452.00,688.00 C452.00,688.00 454.73,688.67 456.00,689.50 C457.27,690.33 459.18,691.72 459.60,693.00 C460.02,694.28 458.50,697.20 458.50,697.20 C458.50,697.20 420.00,697.20 420.00,697.20 C420.00,697.20 418.75,694.78 419.00,693.50 C419.25,692.22 420.18,690.42 421.50,689.50 C422.82,688.58 426.90,688.00 426.90,688.00 C426.90,688.00 426.90,628.00 426.90,628.00 C426.90,628.00 424.32,625.42 423.00,624.50 C421.68,623.58 419.70,623.52 419.00,622.50 C418.30,621.48 418.80,618.40 418.80,618.40Z"/>
<path transform="translate(0,0)" d="M455.40,618.40 C455.40,618.40 471.52,619.12 476.40,620.50 C481.28,621.88 482.73,623.80 484.70,626.70 C486.67,629.60 488.20,634.18 488.20,637.90 C488.20,641.62 486.67,645.87 484.70,649.00 C482.73,652.13 478.25,655.07 476.40,656.70 C474.55,658.33 472.68,657.75 473.60,658.80 C474.52,659.85 479.58,660.90 481.90,663.00 C484.22,665.10 486.45,667.82 487.50,671.40 C488.55,674.98 487.70,682.82 488.20,684.50 C488.70,686.18 489.53,681.92 490.50,681.50 C491.47,681.08 492.87,680.90 494.00,682.00 C495.13,683.10 497.45,685.45 497.30,688.10 C497.15,690.75 497.52,696.38 493.10,697.90 C488.68,699.42 475.80,698.83 470.80,697.20 C465.80,695.57 464.73,692.17 463.10,688.10 C461.47,684.03 462.05,676.98 461.00,672.80 C459.95,668.62 457.73,665.45 456.80,663.00 C455.87,660.55 455.40,658.10 455.40,658.10 C455.40,658.10 455.40,656.00 455.40,656.00 C455.40,656.00 461.12,653.42 462.40,650.40 C463.68,647.38 463.10,641.38 463.10,637.90 C463.10,634.42 463.68,631.60 462.40,629.50 C461.12,627.40 455.40,625.30 455.40,625.30 C455.40,625.30 455.40,618.40 455.40,618.40Z"/>
<path transform="translate(206.4,0)" d="M308.70,632.40 C308.70,632.40 312.50,644.50 312.50,644.50 C312.50,644.50 309.63,651.33 307.90,657.80 C306.17,664.27 302.87,678.28 302.10,683.30 C301.33,688.32 302.23,686.70 303.30,687.90 C304.37,689.10 307.45,689.57 308.50,690.50 C309.55,691.43 309.77,692.42 309.60,693.50 C309.43,694.58 307.50,697.00 307.50,697.00 C307.50,697.00 285.00,697.00 285.00,697.00 C285.00,697.00 283.43,694.20 283.60,693.00 C283.77,691.80 284.85,690.88 286.00,689.80 C287.15,688.72 289.17,687.88 290.50,686.50 C291.83,685.12 291.87,686.28 294.00,681.50 C296.13,676.72 300.85,665.98 303.30,657.80 C305.75,649.62 308.70,632.40 308.70,632.40Z"/>
<path transform="translate(206.4,0)" d="M311.60,618.00 C311.60,618.00 336.50,618.00 336.50,618.00 C336.50,618.00 352.60,688.50 352.60,688.50 C352.60,688.50 355.60,689.17 356.50,690.00 C357.40,690.83 358.00,692.37 358.00,693.50 C358.00,694.63 356.50,696.80 356.50,696.80 C356.50,696.80 322.00,696.80 322.00,696.80 C322.00,696.80 320.22,694.63 320.30,693.50 C320.38,692.37 321.97,690.68 322.50,690.00 C323.03,689.32 323.50,689.40 323.50,689.40 C323.50,689.40 321.60,678.00 321.60,678.00 C321.60,678.00 306.20,678.00 306.20,678.00 C306.20,678.00 306.20,669.20 306.20,669.20 C306.20,669.20 320.20,669.20 320.20,669.20 C320.20,669.20 312.90,624.80 312.90,624.80 C312.90,624.80 311.42,622.13 311.20,621.00 C310.98,619.87 311.60,618.00 311.60,618.00Z"/>
<path transform="translate(0,0)" d="M594.60,615.60 C594.60,615.60 586.27,616.60 582.00,619.00 C577.73,621.40 572.42,625.67 569.00,630.00 C565.58,634.33 563.05,640.33 561.50,645.00 C559.95,649.67 559.62,653.00 559.70,658.00 C559.78,663.00 560.28,669.67 562.00,675.00 C563.72,680.33 566.67,686.25 570.00,690.00 C573.33,693.75 577.90,695.92 582.00,697.50 C586.10,699.08 594.60,699.50 594.60,699.50 C594.60,699.50 594.60,692.00 594.60,692.00 C594.60,692.00 592.02,690.33 591.00,688.00 C589.98,685.67 589.08,683.00 588.50,678.00 C587.92,673.00 587.50,665.00 587.50,658.00 C587.50,651.00 587.92,641.33 588.50,636.00 C589.08,630.67 589.98,628.25 591.00,626.00 C592.02,623.75 594.60,622.50 594.60,622.50 C594.60,622.50 594.60,615.60 594.60,615.60Z"/>
<path transform="translate(0,0)" d="M597.40,616.00 C597.40,616.00 604.73,616.75 608.00,618.00 C611.27,619.25 614.75,621.50 617.00,623.50 C619.25,625.50 620.58,627.25 621.50,630.00 C622.42,632.75 622.50,637.17 622.50,640.00 C622.50,642.83 622.08,645.67 621.50,647.00 C620.92,648.33 619.83,648.50 619.00,648.00 C618.17,647.50 617.67,646.33 616.50,644.00 C615.33,641.67 613.92,637.00 612.00,634.00 C610.08,631.00 607.43,627.83 605.00,626.00 C602.57,624.17 597.40,623.00 597.40,623.00 C597.40,623.00 597.40,616.00 597.40,616.00Z"/>
<path transform="translate(0,0)" d="M597.40,699.50 C597.40,699.50 604.73,699.17 608.00,698.00 C611.27,696.83 614.67,694.83 617.00,692.50 C619.33,690.17 621.08,686.75 622.00,684.00 C622.92,681.25 622.83,677.78 622.50,676.00 C622.17,674.22 620.92,673.47 620.00,673.30 C619.08,673.13 618.17,673.55 617.00,675.00 C615.83,676.45 614.83,679.67 613.00,682.00 C611.17,684.33 608.60,687.33 606.00,689.00 C603.40,690.67 597.40,692.00 597.40,692.00 C597.40,692.00 597.40,699.50 597.40,699.50Z"/>
<path transform="translate(0,0)" d="M625.40,620.00 C625.67,619.32 626.07,617.83 627.00,617.40 C627.93,616.97 631.00,617.40 631.00,617.40 C631.00,617.40 659.00,617.40 659.00,617.40 C659.00,617.40 661.82,617.90 662.50,618.50 C663.18,619.10 663.27,620.17 663.10,621.00 C662.93,621.83 662.28,622.75 661.50,623.50 C660.72,624.25 658.40,625.50 658.40,625.50 C658.40,625.50 658.40,688.50 658.40,688.50 C658.40,688.50 660.72,689.25 661.50,690.00 C662.28,690.75 663.02,691.97 663.10,693.00 C663.18,694.03 662.68,695.52 662.00,696.20 C661.32,696.88 659.00,697.10 659.00,697.10 C659.00,697.10 629.00,697.10 629.00,697.10 C629.00,697.10 626.67,696.88 626.00,696.20 C625.33,695.52 624.92,694.03 625.00,693.00 C625.08,691.97 625.43,690.75 626.50,690.00 C627.57,689.25 631.40,688.50 631.40,688.50 C631.40,688.50 631.40,625.50 631.40,625.50 C631.40,625.50 628.50,624.67 627.50,624.00 C626.50,623.33 625.75,622.17 625.40,621.50 C625.05,620.83 625.13,620.68 625.40,620.00Z"/>
<path transform="translate(0,0)" d="M670.30,618.00 C670.72,617.23 673.00,617.40 673.00,617.40 C673.00,617.40 697.00,617.40 697.00,617.40 C697.00,617.40 699.80,618.23 700.30,619.00 C700.80,619.77 700.63,621.08 700.00,622.00 C699.37,622.92 697.83,623.93 696.50,624.50 C695.17,625.07 692.00,625.40 692.00,625.40 C692.00,625.40 672.70,644.40 672.70,644.40 C672.70,644.40 696.70,686.00 696.70,686.00 C696.70,686.00 698.95,687.33 700.00,688.50 C701.05,689.67 702.83,691.57 703.00,693.00 C703.17,694.43 701.00,697.10 701.00,697.10 C701.00,697.10 666.00,697.10 666.00,697.10 C666.00,697.10 664.08,695.18 664.00,694.00 C663.92,692.82 664.65,690.88 665.50,690.00 C666.35,689.12 669.10,688.70 669.10,688.70 C669.10,688.70 660.20,658.70 660.20,658.70 C660.20,658.70 679.30,625.40 679.30,625.40 C679.30,625.40 675.47,625.07 674.00,624.50 C672.53,623.93 671.12,623.08 670.50,622.00 C669.88,620.92 669.88,618.77 670.30,618.00Z"/>
<path transform="translate(479,0)" d="M226.40,617.50 C226.40,617.50 259.60,617.50 259.60,617.50 C259.60,617.50 259.60,697.00 259.60,697.00 C259.60,697.00 229.00,697.00 229.00,697.00 C229.00,697.00 227.00,696.33 226.60,695.50 C226.20,694.67 226.20,692.95 226.60,692.00 C227.00,691.05 228.02,690.47 229.00,689.80 C229.98,689.13 231.70,688.97 232.50,688.00 C233.30,687.03 233.80,684.00 233.80,684.00 C233.80,684.00 233.80,630.00 233.80,630.00 C233.80,630.00 233.30,627.42 232.50,626.50 C231.70,625.58 229.98,625.17 229.00,624.50 C228.02,623.83 227.00,623.33 226.60,622.50 C226.20,621.67 226.63,620.33 226.60,619.50 C226.57,618.67 226.40,617.50 226.40,617.50Z"/>
<path transform="translate(479,0)" d="M262.00,617.50 C262.00,617.50 286.60,617.50 286.60,617.50 C286.60,617.50 286.78,637.15 286.60,641.50 C286.42,645.85 286.10,643.25 285.50,643.60 C284.90,643.95 283.75,644.37 283.00,643.60 C282.25,642.83 282.00,640.93 281.00,639.00 C280.00,637.07 278.83,634.00 277.00,632.00 C275.17,630.00 272.50,628.10 270.00,627.00 C267.50,625.90 262.00,625.40 262.00,625.40 C262.00,625.40 262.00,617.50 262.00,617.50Z"/>
<path transform="translate(479,0)" d="M262.10,653.20 C262.10,653.20 266.23,652.35 267.80,651.20 C269.37,650.05 270.55,647.92 271.50,646.30 C272.45,644.68 272.83,642.47 273.50,641.50 C274.17,640.53 274.88,640.32 275.50,640.50 C276.12,640.68 277.20,642.60 277.20,642.60 C277.20,642.60 277.20,671.40 277.20,671.40 C277.20,671.40 276.28,672.72 275.50,672.90 C274.72,673.08 273.37,672.98 272.50,672.50 C271.63,672.02 271.08,671.43 270.30,670.00 C269.52,668.57 268.85,665.43 267.80,663.90 C266.75,662.37 264.95,661.43 264.00,660.80 C263.05,660.17 262.10,660.10 262.10,660.10 C262.10,660.10 262.10,653.20 262.10,653.20Z"/>
<path transform="translate(479,0)" d="M262.10,697.00 C262.10,697.00 288.80,697.00 288.80,697.00 C288.80,697.00 289.02,678.67 288.80,674.50 C288.58,670.33 288.22,672.42 287.50,672.00 C286.78,671.58 285.33,671.33 284.50,672.00 C283.67,672.67 283.42,674.00 282.50,676.00 C281.58,678.00 280.75,681.87 279.00,684.00 C277.25,686.13 274.82,687.75 272.00,688.80 C269.18,689.85 262.10,690.30 262.10,690.30 C262.10,690.30 262.10,697.00 262.10,697.00Z"/>
<path transform="translate(347,0)" d="M418.80,618.40 C418.80,618.40 452.00,618.40 452.00,618.40 C452.00,618.40 452.00,688.00 452.00,688.00 C452.00,688.00 454.73,688.67 456.00,689.50 C457.27,690.33 459.18,691.72 459.60,693.00 C460.02,694.28 458.50,697.20 458.50,697.20 C458.50,697.20 420.00,697.20 420.00,697.20 C420.00,697.20 418.75,694.78 419.00,693.50 C419.25,692.22 420.18,690.42 421.50,689.50 C422.82,688.58 426.90,688.00 426.90,688.00 C426.90,688.00 426.90,628.00 426.90,628.00 C426.90,628.00 424.32,625.42 423.00,624.50 C421.68,623.58 419.70,623.52 419.00,622.50 C418.30,621.48 418.80,618.40 418.80,618.40Z"/>
<path transform="translate(347,0)" d="M455.40,618.40 C455.40,618.40 471.52,619.12 476.40,620.50 C481.28,621.88 482.73,623.80 484.70,626.70 C486.67,629.60 488.20,634.18 488.20,637.90 C488.20,641.62 486.67,645.87 484.70,649.00 C482.73,652.13 478.25,655.07 476.40,656.70 C474.55,658.33 472.68,657.75 473.60,658.80 C474.52,659.85 479.58,660.90 481.90,663.00 C484.22,665.10 486.45,667.82 487.50,671.40 C488.55,674.98 487.70,682.82 488.20,684.50 C488.70,686.18 489.53,681.92 490.50,681.50 C491.47,681.08 492.87,680.90 494.00,682.00 C495.13,683.10 497.45,685.45 497.30,688.10 C497.15,690.75 497.52,696.38 493.10,697.90 C488.68,699.42 475.80,698.83 470.80,697.20 C465.80,695.57 464.73,692.17 463.10,688.10 C461.47,684.03 462.05,676.98 461.00,672.80 C459.95,668.62 457.73,665.45 456.80,663.00 C455.87,660.55 455.40,658.10 455.40,658.10 C455.40,658.10 455.40,656.00 455.40,656.00 C455.40,656.00 461.12,653.42 462.40,650.40 C463.68,647.38 463.10,641.38 463.10,637.90 C463.10,634.42 463.68,631.60 462.40,629.50 C461.12,627.40 455.40,625.30 455.40,625.30 C455.40,625.30 455.40,618.40 455.40,618.40Z"/>
<path transform="translate(454.5,0)" d="M418.80,618.40 C418.80,618.40 452.00,618.40 452.00,618.40 C452.00,618.40 452.00,688.00 452.00,688.00 C452.00,688.00 454.73,688.67 456.00,689.50 C457.27,690.33 459.18,691.72 459.60,693.00 C460.02,694.28 458.50,697.20 458.50,697.20 C458.50,697.20 420.00,697.20 420.00,697.20 C420.00,697.20 418.75,694.78 419.00,693.50 C419.25,692.22 420.18,690.42 421.50,689.50 C422.82,688.58 426.90,688.00 426.90,688.00 C426.90,688.00 426.90,628.00 426.90,628.00 C426.90,628.00 424.32,625.42 423.00,624.50 C421.68,623.58 419.70,623.52 419.00,622.50 C418.30,621.48 418.80,618.40 418.80,618.40Z"/>
<path transform="translate(454.5,0)" d="M455.40,618.40 C455.40,618.40 471.52,619.12 476.40,620.50 C481.28,621.88 482.73,623.80 484.70,626.70 C486.67,629.60 488.20,634.18 488.20,637.90 C488.20,641.62 486.67,645.87 484.70,649.00 C482.73,652.13 478.25,655.07 476.40,656.70 C474.55,658.33 472.68,657.75 473.60,658.80 C474.52,659.85 479.58,660.90 481.90,663.00 C484.22,665.10 486.45,667.82 487.50,671.40 C488.55,674.98 487.70,682.82 488.20,684.50 C488.70,686.18 489.53,681.92 490.50,681.50 C491.47,681.08 492.87,680.90 494.00,682.00 C495.13,683.10 497.45,685.45 497.30,688.10 C497.15,690.75 497.52,696.38 493.10,697.90 C488.68,699.42 475.80,698.83 470.80,697.20 C465.80,695.57 464.73,692.17 463.10,688.10 C461.47,684.03 462.05,676.98 461.00,672.80 C459.95,668.62 457.73,665.45 456.80,663.00 C455.87,660.55 455.40,658.10 455.40,658.10 C455.40,658.10 455.40,656.00 455.40,656.00 C455.40,656.00 461.12,653.42 462.40,650.40 C463.68,647.38 463.10,641.38 463.10,637.90 C463.10,634.42 463.68,631.60 462.40,629.50 C461.12,627.40 455.40,625.30 455.40,625.30 C455.40,625.30 455.40,618.40 455.40,618.40Z"/>
<path transform="translate(0,0)" d="M950.00,620.50 C950.00,619.32 950.83,617.92 952.00,617.40 C953.17,616.88 957.00,617.40 957.00,617.40 C957.00,617.40 985.00,617.40 985.00,617.40 C985.00,617.40 987.80,617.82 988.50,618.50 C989.20,619.18 989.45,620.50 989.20,621.50 C988.95,622.50 988.08,623.70 987.00,624.50 C985.92,625.30 982.70,626.30 982.70,626.30 C982.70,626.30 982.70,679.00 982.70,679.00 C982.70,679.00 983.28,683.00 984.00,684.50 C984.72,686.00 985.85,687.17 987.00,688.00 C988.15,688.83 990.90,689.50 990.90,689.50 C990.90,689.50 990.90,699.10 990.90,699.10 C990.90,699.10 982.15,699.02 978.00,698.00 C973.85,696.98 969.25,695.17 966.00,693.00 C962.75,690.83 960.22,688.00 958.50,685.00 C956.78,682.00 955.70,675.00 955.70,675.00 C955.70,675.00 955.70,626.30 955.70,626.30 C955.70,626.30 952.95,625.47 952.00,624.50 C951.05,623.53 950.00,621.68 950.00,620.50Z"/>
<path transform="translate(0,0)" d="M997.40,620.50 C997.65,619.65 998.57,617.92 999.50,617.40 C1000.43,616.88 1003.00,617.40 1003.00,617.40 C1003.00,617.40 1019.00,617.40 1019.00,617.40 C1019.00,617.40 1022.25,617.82 1023.00,618.50 C1023.75,619.18 1023.83,620.50 1023.50,621.50 C1023.17,622.50 1022.08,623.70 1021.00,624.50 C1019.92,625.30 1017.00,626.30 1017.00,626.30 C1017.00,626.30 1017.00,675.00 1017.00,675.00 C1017.00,675.00 1016.00,682.83 1014.50,686.00 C1013.00,689.17 1010.42,691.95 1008.00,694.00 C1005.58,696.05 1002.45,697.45 1000.00,698.30 C997.55,699.15 993.30,699.10 993.30,699.10 C993.30,699.10 993.30,689.50 993.30,689.50 C993.30,689.50 996.97,689.08 999.00,688.00 C1001.03,686.92 1003.87,685.17 1005.50,683.00 C1007.13,680.83 1008.80,675.00 1008.80,675.00 C1008.80,675.00 1008.80,626.30 1008.80,626.30 C1008.80,626.30 1003.80,625.13 1002.00,624.50 C1000.20,623.87 998.77,623.17 998.00,622.50 C997.23,621.83 997.15,621.35 997.40,620.50Z"/>
<circle cx="858.2" cy="686.7" r="12.2"/></g>
</svg>
</body></html>
